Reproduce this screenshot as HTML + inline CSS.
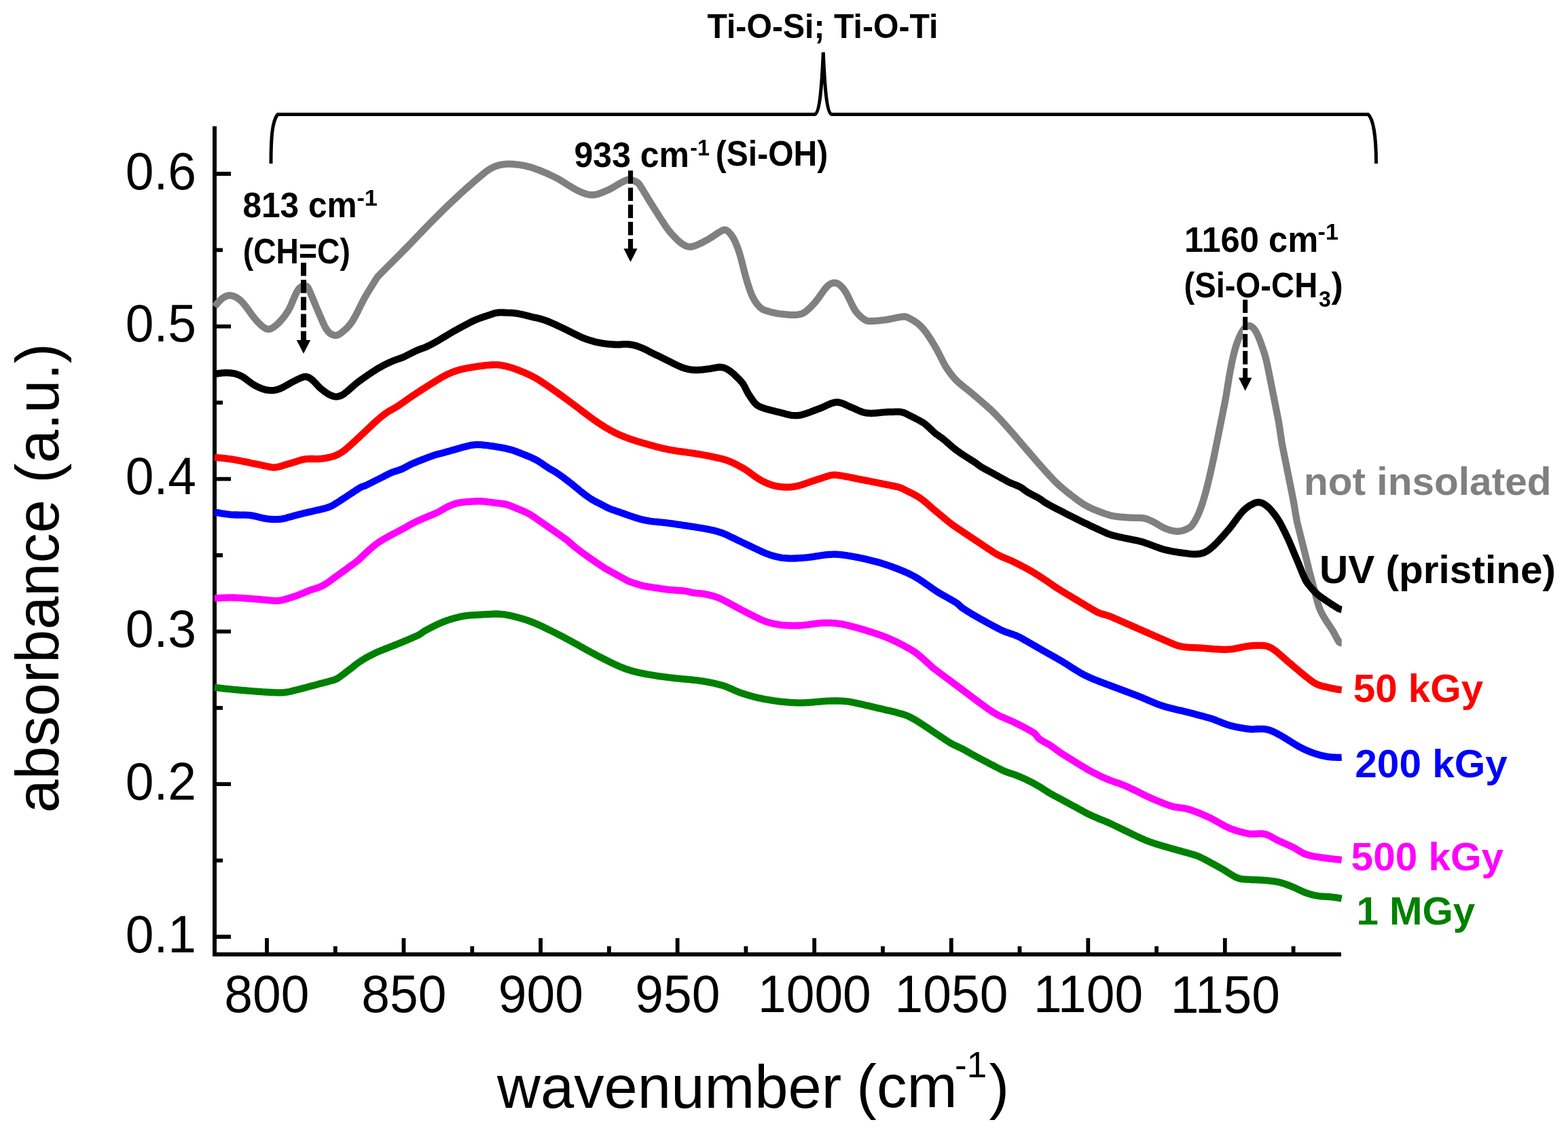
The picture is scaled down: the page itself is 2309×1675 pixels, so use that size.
<!DOCTYPE html>
<html><head><meta charset="utf-8"><title>absorbance vs wavenumber</title>
<style>
html,body{margin:0;padding:0;background:#fff;}
body{width:2309px;height:1675px;overflow:hidden;}
svg{display:block;}
text{font-family:"Liberation Sans", sans-serif;}
.b{font-weight:bold;}
</style></head><body>
<svg width="2309" height="1675" viewBox="0 0 2309 1675">
<rect width="2309" height="1675" fill="#fff"/>

<g stroke="#000" stroke-width="6" fill="none" stroke-linecap="butt">
<path d="M316,186V1406H1975"/>
</g>
<path d="M319,1380.0H340 M319,1155.2H340 M319,930.4H340 M319,705.6H340 M319,480.8H340 M319,256.0H340 M319,1267.6H328 M319,1042.8H328 M319,818.0H328 M319,593.2H328 M319,368.4H328 M393.0,1403V1382 M594.5,1403V1382 M796.1,1403V1382 M997.6,1403V1382 M1199.2,1403V1382 M1400.8,1403V1382 M1602.3,1403V1382 M1803.8,1403V1382 M493.8,1403V1394 M695.3,1403V1394 M896.9,1403V1394 M1098.4,1403V1394 M1300.0,1403V1394 M1501.5,1403V1394 M1703.1,1403V1394 M1904.6,1403V1394" stroke="#000" stroke-width="5.8" fill="none"/>
<text x="0" y="0" transform="translate(392.90 1490.90) scale(1 1.040)" font-size="75.00" text-anchor="middle" fill="#000">800</text>
<text x="0" y="0" transform="translate(594.80 1491.25) scale(1 1.040)" font-size="75.00" text-anchor="middle" fill="#000">850</text>
<text x="0" y="0" transform="translate(796.30 1491.25) scale(1 1.040)" font-size="75.00" text-anchor="middle" fill="#000">900</text>
<text x="0" y="0" transform="translate(997.90 1491.25) scale(1 1.040)" font-size="75.00" text-anchor="middle" fill="#000">950</text>
<text x="0" y="0" transform="translate(1199.40 1491.25) scale(1 1.040)" font-size="75.00" text-anchor="middle" fill="#000">1000</text>
<text x="0" y="0" transform="translate(1401.00 1491.25) scale(1 1.040)" font-size="75.00" text-anchor="middle" fill="#000">1050</text>
<text x="0" y="0" transform="translate(1602.50 1491.25) scale(1 1.040)" font-size="75.00" text-anchor="middle" fill="#000">1100</text>
<text x="0" y="0" transform="translate(1804.40 1491.60) scale(1 1.040)" font-size="75.00" text-anchor="middle" fill="#000">1150</text>
<text x="732.10" y="1631.50" font-size="89.00" textLength="507.12" lengthAdjust="spacingAndGlyphs" fill="#000">wavenumber</text>
<text x="1261.30" y="1630.55" font-size="89.00" fill="#000">(cm</text>
<text x="1406.10" y="1587.05" font-size="53.00" fill="#000">-1</text>
<text x="1456.60" y="1630.55" font-size="89.00" fill="#000">)</text>
<text x="1920.00" y="728.55" font-size="58.00" font-weight="bold" textLength="364.56" lengthAdjust="spacingAndGlyphs" fill="#808080">not insolated</text>
<text x="1943.00" y="859.40" font-size="58.00" font-weight="bold" textLength="347.96" lengthAdjust="spacingAndGlyphs" fill="#000">UV (pristine)</text>
<text x="1992.70" y="1034.25" font-size="58.00" font-weight="bold" textLength="191.57" lengthAdjust="spacingAndGlyphs" fill="#ff0000">50 kGy</text>
<text x="1995.30" y="1144.90" font-size="58.00" font-weight="bold" textLength="224.53" lengthAdjust="spacingAndGlyphs" fill="#0000ff">200 kGy</text>
<text x="1989.60" y="1281.50" font-size="58.00" font-weight="bold" textLength="224.42" lengthAdjust="spacingAndGlyphs" fill="#ff00ff">500 kGy</text>
<text x="1997.40" y="1362.35" font-size="58.00" font-weight="bold" textLength="174.78" lengthAdjust="spacingAndGlyphs" fill="#008000">1 MGy</text>
<text x="1041.40" y="56.00" font-size="50.00" font-weight="bold" textLength="340.11" lengthAdjust="spacingAndGlyphs" fill="#000">Ti-O-Si; Ti-O-Ti</text>
<text x="357.40" y="320.25" font-size="51.00" font-weight="bold" textLength="168.33" lengthAdjust="spacingAndGlyphs" fill="#000">813 cm</text>
<text x="525.40" y="303.25" font-size="33.00" font-weight="bold" textLength="30.48" lengthAdjust="spacingAndGlyphs" fill="#000">-1</text>
<text x="357.80" y="387.60" font-size="51.00" font-weight="bold" textLength="158.00" lengthAdjust="spacingAndGlyphs" fill="#000">(CH=C)</text>
<text x="845.60" y="245.95" font-size="51.00" font-weight="bold" textLength="169.37" lengthAdjust="spacingAndGlyphs" fill="#000">933 cm</text>
<text x="1016.20" y="228.75" font-size="33.00" font-weight="bold" textLength="28.77" lengthAdjust="spacingAndGlyphs" fill="#000">-1</text>
<text x="1053.80" y="244.20" font-size="51.00" font-weight="bold" textLength="165.52" lengthAdjust="spacingAndGlyphs" fill="#000">(Si-OH)</text>
<text x="1744.00" y="371.05" font-size="51.00" font-weight="bold" textLength="197.20" lengthAdjust="spacingAndGlyphs" fill="#000">1160 cm</text>
<text x="1940.60" y="353.15" font-size="33.00" font-weight="bold" textLength="30.26" lengthAdjust="spacingAndGlyphs" fill="#000">-1</text>
<text x="1743.50" y="437.75" font-size="51.00" font-weight="bold" textLength="196.75" lengthAdjust="spacingAndGlyphs" fill="#000">(Si-O-CH</text>
<text x="1942.10" y="452.35" font-size="33.00" font-weight="bold" textLength="17.88" lengthAdjust="spacingAndGlyphs" fill="#000">3</text>
<text x="1960.50" y="437.75" font-size="51.00" font-weight="bold" textLength="17.32" lengthAdjust="spacingAndGlyphs" fill="#000">)</text>
<text x="0" y="0" transform="translate(289.00 1402.55) scale(1 1.040)" font-size="75.00" text-anchor="end" fill="#000">0.1</text>
<text x="0" y="0" transform="translate(289.00 1177.75) scale(1 1.040)" font-size="75.00" text-anchor="end" fill="#000">0.2</text>
<text x="0" y="0" transform="translate(289.00 952.95) scale(1 1.040)" font-size="75.00" text-anchor="end" fill="#000">0.3</text>
<text x="0" y="0" transform="translate(289.00 728.15) scale(1 1.040)" font-size="75.00" text-anchor="end" fill="#000">0.4</text>
<text x="0" y="0" transform="translate(289.00 503.35) scale(1 1.040)" font-size="75.00" text-anchor="end" fill="#000">0.5</text>
<text x="0" y="0" transform="translate(289.00 278.55) scale(1 1.040)" font-size="75.00" text-anchor="end" fill="#000">0.6</text>
<text font-size="89" textLength="691.6" lengthAdjust="spacingAndGlyphs" transform="translate(85.8,1197.4) rotate(-90)">absorbance (a.u.)</text>
<path d="M316.0,451.7L318.0,449.1 320.0,446.8 322.0,444.5 324.0,442.5 326.0,440.7 328.0,439.1 330.0,437.8 332.0,436.7 334.0,435.9 336.0,435.4 338.0,435.2 340.0,435.4 342.0,435.8 344.0,436.4 346.0,437.1 348.0,438.1 350.0,439.3 352.0,440.8 354.0,442.4 356.0,444.4 358.0,446.6 360.0,449.0 362.0,451.5 364.0,454.2 366.0,456.9 368.0,459.7 370.0,462.5 372.0,465.2 374.0,467.8 376.0,470.2 378.0,472.5 380.0,474.7 382.0,476.8 384.0,478.7 386.0,480.5 388.0,482.0 390.0,483.3 392.0,484.3 394.0,484.9 396.0,485.0 398.0,484.6 400.0,483.7 402.0,482.6 404.0,481.2 406.0,479.6 408.0,477.9 410.0,476.0 412.0,474.0 414.0,471.8 416.0,469.4 418.0,466.9 420.0,464.2 422.0,461.3 424.0,458.3 426.0,454.9 428.0,450.7 430.0,446.1 432.0,441.3 434.0,436.6 436.0,432.2 438.0,428.5 440.0,425.6 442.0,423.5 444.0,422.1 446.0,421.2 448.0,420.8 450.0,420.9 452.0,422.0 454.0,424.6 456.0,428.9 458.0,433.7 460.0,438.5 462.0,443.3 464.0,448.1 466.0,452.9 468.0,457.6 470.0,462.3 472.0,466.9 474.0,471.6 476.0,476.1 478.0,480.4 480.0,484.0 482.0,486.9 484.0,489.3 486.0,491.1 488.0,492.4 490.0,493.3 492.0,493.9 494.0,494.1 496.0,493.8 498.0,493.1 500.0,492.1 502.0,490.8 504.0,489.2 506.0,487.5 508.0,485.8 510.0,483.9 512.0,482.0 514.0,479.8 516.0,477.3 518.0,474.5 520.0,471.4 522.0,467.9 524.0,464.2 526.0,460.3 528.0,456.4 530.0,452.3 532.0,448.3 534.0,444.4 536.0,440.5 538.0,436.9 540.0,433.5 542.0,430.2 544.0,426.9 546.0,423.6 548.0,420.4 550.0,417.2 552.0,414.0 554.0,410.7 556.0,407.9 558.0,405.8 560.0,403.7 562.0,401.7 564.0,399.7 566.0,397.7 568.0,395.6 570.0,393.6 572.0,391.6 574.0,389.6 576.0,387.6 578.0,385.6 580.0,383.6 582.0,381.6 584.0,379.6 586.0,377.6 588.0,375.6 590.0,373.6 592.0,371.6 594.0,369.5 596.0,367.5 598.0,365.5 600.0,363.5 602.0,361.5 604.0,359.4 606.0,357.3 608.0,355.2 610.0,353.1 612.0,351.0 614.0,348.9 616.0,346.8 618.0,344.7 620.0,342.6 622.0,340.5 624.0,338.4 626.0,336.4 628.0,334.3 630.0,332.3 632.0,330.2 634.0,328.2 636.0,326.2 638.0,324.2 640.0,322.1 642.0,320.1 644.0,318.1 646.0,316.1 648.0,314.1 650.0,312.1 652.0,310.2 654.0,308.2 656.0,306.2 658.0,304.3 660.0,302.3 662.0,300.4 664.0,298.5 666.0,296.7 668.0,294.8 670.0,292.9 672.0,291.1 674.0,289.2 676.0,287.4 678.0,285.5 680.0,283.7 682.0,281.9 684.0,280.0 686.0,278.2 688.0,276.4 690.0,274.6 692.0,272.8 694.0,271.1 696.0,269.4 698.0,267.6 700.0,265.9 702.0,264.2 704.0,262.5 706.0,260.8 708.0,259.2 710.0,257.5 712.0,255.8 714.0,254.2 716.0,252.7 718.0,251.2 720.0,249.9 722.0,248.7 724.0,247.5 726.0,246.5 728.0,245.6 730.0,244.9 732.0,244.2 734.0,243.6 736.0,243.1 738.0,242.6 740.0,242.3 742.0,242.0 744.0,241.8 746.0,241.7 748.0,241.6 750.0,241.6 752.0,241.7 754.0,241.7 756.0,241.9 758.0,242.1 760.0,242.3 762.0,242.5 764.0,242.7 766.0,243.0 768.0,243.3 770.0,243.6 772.0,244.0 774.0,244.4 776.0,244.9 778.0,245.4 780.0,245.9 782.0,246.5 784.0,247.2 786.0,247.9 788.0,248.6 790.0,249.3 792.0,250.0 794.0,250.8 796.0,251.6 798.0,252.4 800.0,253.2 802.0,254.0 804.0,254.9 806.0,255.8 808.0,256.7 810.0,257.6 812.0,258.5 814.0,259.5 816.0,260.5 818.0,261.5 820.0,262.5 822.0,263.6 824.0,264.7 826.0,265.9 828.0,267.2 830.0,268.4 832.0,269.7 834.0,271.0 836.0,272.2 838.0,273.5 840.0,274.7 842.0,275.9 844.0,277.1 846.0,278.2 848.0,279.3 850.0,280.3 852.0,281.3 854.0,282.3 856.0,283.2 858.0,284.0 860.0,284.8 862.0,285.4 864.0,286.0 866.0,286.5 868.0,286.8 870.0,287.0 872.0,287.1 874.0,287.1 876.0,286.8 878.0,286.5 880.0,286.0 882.0,285.4 884.0,284.7 886.0,283.9 888.0,283.1 890.0,282.3 892.0,281.4 894.0,280.5 896.0,279.6 898.0,278.7 900.0,277.6 902.0,276.5 904.0,275.3 906.0,274.1 908.0,272.9 910.0,271.7 912.0,270.6 914.0,269.4 916.0,268.3 918.0,267.3 920.0,266.4 922.0,265.5 924.0,264.8 926.0,264.6 928.0,264.8 930.0,265.3 932.0,265.9 934.0,266.6 936.0,267.3 938.0,268.3 940.0,270.0 942.0,272.5 944.0,275.6 946.0,278.8 948.0,282.1 950.0,285.4 952.0,288.7 954.0,292.1 956.0,295.4 958.0,298.6 960.0,301.8 962.0,305.0 964.0,308.1 966.0,311.3 968.0,314.4 970.0,317.5 972.0,320.7 974.0,323.8 976.0,326.9 978.0,329.9 980.0,332.9 982.0,335.8 984.0,338.5 986.0,341.0 988.0,343.4 990.0,345.7 992.0,347.8 994.0,349.9 996.0,351.9 998.0,353.9 1000.0,355.7 1002.0,357.4 1004.0,358.9 1006.0,360.2 1008.0,361.3 1010.0,362.3 1012.0,363.0 1014.0,363.4 1016.0,363.6 1018.0,363.5 1020.0,363.1 1022.0,362.5 1024.0,361.8 1026.0,361.0 1028.0,360.1 1030.0,359.2 1032.0,358.3 1034.0,357.3 1036.0,356.3 1038.0,355.2 1040.0,354.2 1042.0,353.1 1044.0,351.9 1046.0,350.7 1048.0,349.4 1050.0,348.1 1052.0,346.7 1054.0,345.4 1056.0,344.1 1058.0,342.8 1060.0,341.6 1062.0,340.4 1064.0,339.4 1066.0,338.6 1068.0,338.6 1070.0,339.4 1072.0,340.8 1074.0,342.7 1076.0,345.1 1078.0,347.8 1080.0,351.0 1082.0,354.8 1084.0,359.3 1086.0,364.4 1088.0,370.1 1090.0,376.5 1092.0,383.9 1094.0,391.8 1096.0,399.8 1098.0,407.4 1100.0,414.2 1102.0,420.7 1104.0,426.7 1106.0,432.1 1108.0,436.7 1110.0,440.5 1112.0,443.8 1114.0,446.8 1116.0,449.4 1118.0,451.6 1120.0,453.5 1122.0,455.0 1124.0,456.2 1126.0,457.0 1128.0,457.6 1130.0,458.2 1132.0,458.8 1134.0,459.4 1136.0,459.9 1138.0,460.4 1140.0,460.8 1142.0,461.3 1144.0,461.6 1146.0,462.0 1148.0,462.3 1150.0,462.5 1152.0,462.7 1154.0,463.0 1156.0,463.2 1158.0,463.4 1160.0,463.6 1162.0,463.7 1164.0,463.8 1166.0,463.9 1168.0,463.9 1170.0,463.9 1172.0,463.8 1174.0,463.6 1176.0,463.3 1178.0,462.9 1180.0,462.4 1182.0,461.7 1184.0,460.6 1186.0,459.3 1188.0,457.7 1190.0,456.0 1192.0,454.1 1194.0,452.1 1196.0,450.0 1198.0,447.9 1200.0,445.8 1202.0,443.3 1204.0,440.7 1206.0,437.9 1208.0,435.1 1210.0,432.3 1212.0,429.5 1214.0,426.8 1216.0,424.3 1218.0,422.1 1220.0,420.2 1222.0,418.8 1224.0,417.7 1226.0,417.0 1228.0,416.6 1230.0,416.7 1232.0,417.1 1234.0,418.0 1236.0,419.4 1238.0,421.1 1240.0,423.1 1242.0,425.4 1244.0,428.2 1246.0,431.4 1248.0,435.2 1250.0,439.2 1252.0,443.4 1254.0,447.6 1256.0,451.6 1258.0,455.2 1260.0,458.4 1262.0,460.9 1264.0,463.1 1266.0,465.1 1268.0,467.0 1270.0,468.6 1272.0,470.1 1274.0,471.3 1276.0,472.2 1278.0,472.8 1280.0,473.1 1282.0,473.1 1284.0,473.0 1286.0,472.9 1288.0,472.8 1290.0,472.7 1292.0,472.5 1294.0,472.3 1296.0,472.1 1298.0,471.9 1300.0,471.7 1302.0,471.5 1304.0,471.2 1306.0,470.9 1308.0,470.5 1310.0,470.1 1312.0,469.7 1314.0,469.3 1316.0,468.9 1318.0,468.5 1320.0,468.0 1322.0,467.6 1324.0,467.3 1326.0,467.0 1328.0,466.7 1330.0,466.5 1332.0,466.4 1334.0,466.7 1336.0,467.4 1338.0,468.3 1340.0,469.4 1342.0,470.5 1344.0,471.6 1346.0,472.8 1348.0,474.1 1350.0,475.5 1352.0,477.1 1354.0,478.8 1356.0,480.6 1358.0,482.7 1360.0,485.1 1362.0,487.6 1364.0,490.2 1366.0,493.1 1368.0,496.1 1370.0,499.1 1372.0,502.3 1374.0,505.6 1376.0,508.9 1378.0,512.3 1380.0,515.8 1382.0,519.6 1384.0,523.5 1386.0,527.5 1388.0,531.5 1390.0,535.3 1392.0,538.9 1394.0,542.1 1396.0,545.1 1398.0,547.9 1400.0,550.6 1402.0,553.2 1404.0,555.6 1406.0,557.9 1408.0,560.0 1410.0,562.0 1412.0,563.8 1414.0,565.5 1416.0,567.2 1418.0,568.8 1420.0,570.4 1422.0,572.0 1424.0,573.6 1426.0,575.2 1428.0,576.8 1430.0,578.4 1432.0,580.1 1434.0,581.8 1436.0,583.5 1438.0,585.2 1440.0,586.9 1442.0,588.6 1444.0,590.3 1446.0,592.1 1448.0,593.8 1450.0,595.5 1452.0,597.3 1454.0,599.1 1456.0,600.9 1458.0,602.7 1460.0,604.6 1462.0,606.5 1464.0,608.5 1466.0,610.5 1468.0,612.6 1470.0,614.7 1472.0,616.8 1474.0,618.9 1476.0,621.1 1478.0,623.3 1480.0,625.5 1482.0,627.8 1484.0,630.0 1486.0,632.3 1488.0,634.6 1490.0,636.9 1492.0,639.2 1494.0,641.5 1496.0,643.8 1498.0,646.1 1500.0,648.5 1502.0,650.8 1504.0,653.2 1506.0,655.5 1508.0,657.8 1510.0,660.2 1512.0,662.5 1514.0,664.9 1516.0,667.2 1518.0,669.5 1520.0,671.9 1522.0,674.2 1524.0,676.5 1526.0,678.8 1528.0,681.1 1530.0,683.4 1532.0,685.6 1534.0,687.9 1536.0,690.1 1538.0,692.4 1540.0,694.6 1542.0,696.8 1544.0,699.0 1546.0,701.2 1548.0,703.3 1550.0,705.5 1552.0,707.6 1554.0,709.6 1556.0,711.5 1558.0,713.4 1560.0,715.3 1562.0,717.0 1564.0,718.8 1566.0,720.4 1568.0,722.1 1570.0,723.7 1572.0,725.3 1574.0,726.9 1576.0,728.4 1578.0,730.0 1580.0,731.5 1582.0,733.1 1584.0,734.6 1586.0,736.1 1588.0,737.6 1590.0,739.0 1592.0,740.4 1594.0,741.7 1596.0,743.0 1598.0,744.2 1600.0,745.3 1602.0,746.4 1604.0,747.4 1606.0,748.4 1608.0,749.3 1610.0,750.2 1612.0,751.0 1614.0,751.8 1616.0,752.6 1618.0,753.4 1620.0,754.1 1622.0,754.9 1624.0,755.6 1626.0,756.3 1628.0,757.0 1630.0,757.7 1632.0,758.3 1634.0,758.9 1636.0,759.4 1638.0,759.9 1640.0,760.3 1642.0,760.6 1644.0,760.9 1646.0,761.1 1648.0,761.4 1650.0,761.6 1652.0,761.7 1654.0,761.9 1656.0,762.1 1658.0,762.2 1660.0,762.4 1662.0,762.5 1664.0,762.6 1666.0,762.7 1668.0,762.7 1670.0,762.8 1672.0,762.8 1674.0,762.8 1676.0,762.8 1678.0,762.8 1680.0,762.9 1682.0,763.1 1684.0,763.3 1686.0,763.7 1688.0,764.3 1690.0,765.0 1692.0,765.9 1694.0,766.8 1696.0,767.7 1698.0,768.7 1700.0,769.7 1702.0,770.8 1704.0,772.0 1706.0,773.2 1708.0,774.4 1710.0,775.5 1712.0,776.6 1714.0,777.6 1716.0,778.5 1718.0,779.3 1720.0,780.0 1722.0,780.7 1724.0,781.2 1726.0,781.7 1728.0,782.1 1730.0,782.4 1732.0,782.7 1734.0,782.8 1736.0,782.6 1738.0,782.4 1740.0,782.0 1742.0,781.6 1744.0,780.9 1746.0,780.2 1748.0,779.2 1750.0,778.2 1752.0,777.0 1754.0,775.4 1756.0,773.1 1758.0,770.2 1760.0,766.8 1762.0,763.1 1764.0,759.0 1766.0,754.3 1768.0,749.2 1770.0,743.4 1772.0,737.1 1774.0,730.3 1776.0,723.1 1778.0,715.4 1780.0,707.1 1782.0,698.5 1784.0,689.7 1786.0,680.6 1788.0,671.1 1790.0,661.2 1792.0,651.3 1794.0,641.4 1796.0,631.5 1798.0,621.5 1800.0,611.6 1802.0,601.5 1804.0,591.4 1806.0,580.3 1808.0,567.7 1810.0,555.4 1812.0,544.4 1814.0,534.3 1816.0,525.1 1818.0,517.0 1820.0,510.0 1822.0,504.0 1824.0,498.8 1826.0,494.3 1828.0,490.4 1830.0,487.0 1832.0,484.3 1834.0,482.3 1836.0,480.8 1838.0,480.0 1840.0,479.9 1842.0,480.6 1844.0,481.8 1846.0,483.7 1848.0,486.3 1850.0,489.5 1852.0,493.5 1854.0,498.1 1856.0,503.3 1858.0,508.9 1860.0,514.8 1862.0,520.8 1864.0,527.7 1866.0,536.2 1868.0,546.2 1870.0,556.2 1872.0,566.3 1874.0,576.3 1876.0,586.3 1878.0,596.3 1880.0,606.4 1882.0,616.4 1884.0,627.8 1886.0,641.7 1888.0,654.5 1890.0,664.6 1892.0,674.5 1894.0,684.3 1896.0,694.2 1898.0,704.2 1900.0,714.2 1902.0,724.2 1904.0,734.3 1906.0,745.2 1908.0,757.7 1910.0,768.7 1912.0,776.9 1914.0,784.8 1916.0,792.7 1918.0,800.7 1920.0,808.6 1922.0,816.6 1924.0,824.6 1926.0,832.9 1928.0,841.1 1930.0,848.9 1932.0,856.4 1934.0,863.8 1936.0,871.2 1938.0,878.9 1940.0,886.4 1942.0,893.1 1944.0,898.4 1946.0,902.7 1948.0,906.4 1950.0,909.7 1952.0,913.0 1954.0,916.1 1956.0,919.1 1958.0,922.1 1960.0,925.2 1962.0,928.3 1964.0,931.6 1966.0,935.4 1968.0,939.2 1970.0,942.9 1972.0,945.9 1974.0,947.0 1975.7,947.0" fill="none" stroke="#808080" stroke-width="10.3" stroke-linejoin="round" stroke-linecap="butt"/>
<path d="M316.0,551.3L318.0,550.8 320.0,550.4 322.0,550.1 324.0,549.8 326.0,549.6 328.0,549.4 330.0,549.3 332.0,549.2 334.0,549.2 336.0,549.3 338.0,549.4 340.0,549.5 342.0,549.8 344.0,550.1 346.0,550.6 348.0,551.1 350.0,551.8 352.0,552.5 354.0,553.4 356.0,554.4 358.0,555.6 360.0,556.9 362.0,558.4 364.0,559.9 366.0,561.4 368.0,562.9 370.0,564.4 372.0,565.8 374.0,567.0 376.0,568.2 378.0,569.2 380.0,570.1 382.0,571.0 384.0,571.9 386.0,572.6 388.0,573.3 390.0,573.9 392.0,574.4 394.0,574.7 396.0,575.0 398.0,575.2 400.0,575.2 402.0,575.1 404.0,574.9 406.0,574.5 408.0,574.0 410.0,573.4 412.0,572.7 414.0,571.8 416.0,570.8 418.0,569.8 420.0,568.7 422.0,567.6 424.0,566.5 426.0,565.3 428.0,564.2 430.0,563.1 432.0,562.0 434.0,561.0 436.0,559.9 438.0,559.0 440.0,558.0 442.0,557.2 444.0,556.3 446.0,555.6 448.0,555.0 450.0,554.8 452.0,555.1 454.0,555.8 456.0,556.9 458.0,558.2 460.0,559.8 462.0,561.7 464.0,563.8 466.0,565.9 468.0,568.1 470.0,570.2 472.0,572.1 474.0,573.7 476.0,575.3 478.0,576.8 480.0,578.2 482.0,579.6 484.0,580.8 486.0,581.8 488.0,582.7 490.0,583.5 492.0,584.0 494.0,584.3 496.0,584.3 498.0,584.1 500.0,583.6 502.0,582.8 504.0,581.8 506.0,580.6 508.0,579.1 510.0,577.5 512.0,575.9 514.0,574.1 516.0,572.4 518.0,570.6 520.0,568.8 522.0,567.1 524.0,565.4 526.0,563.8 528.0,562.2 530.0,560.8 532.0,559.3 534.0,557.9 536.0,556.5 538.0,555.1 540.0,553.7 542.0,552.3 544.0,551.0 546.0,549.6 548.0,548.3 550.0,547.0 552.0,545.7 554.0,544.4 556.0,543.2 558.0,542.0 560.0,540.9 562.0,539.8 564.0,538.7 566.0,537.7 568.0,536.7 570.0,535.7 572.0,534.7 574.0,533.8 576.0,532.9 578.0,532.0 580.0,531.2 582.0,530.5 584.0,529.7 586.0,529.0 588.0,528.3 590.0,527.6 592.0,526.9 594.0,526.1 596.0,525.2 598.0,524.2 600.0,523.2 602.0,522.2 604.0,521.2 606.0,520.1 608.0,519.1 610.0,518.1 612.0,517.1 614.0,516.2 616.0,515.4 618.0,514.6 620.0,513.9 622.0,513.2 624.0,512.5 626.0,511.7 628.0,510.9 630.0,509.9 632.0,508.9 634.0,507.9 636.0,506.9 638.0,505.8 640.0,504.7 642.0,503.6 644.0,502.4 646.0,501.3 648.0,500.1 650.0,498.9 652.0,497.7 654.0,496.5 656.0,495.3 658.0,494.1 660.0,492.8 662.0,491.6 664.0,490.4 666.0,489.3 668.0,488.1 670.0,487.0 672.0,485.9 674.0,484.8 676.0,483.7 678.0,482.7 680.0,481.6 682.0,480.5 684.0,479.4 686.0,478.4 688.0,477.3 690.0,476.3 692.0,475.2 694.0,474.2 696.0,473.2 698.0,472.3 700.0,471.4 702.0,470.5 704.0,469.7 706.0,469.0 708.0,468.2 710.0,467.6 712.0,466.9 714.0,466.2 716.0,465.6 718.0,464.9 720.0,464.3 722.0,463.6 724.0,462.9 726.0,462.2 728.0,461.6 730.0,461.1 732.0,460.7 734.0,460.5 736.0,460.4 738.0,460.4 740.0,460.4 742.0,460.5 744.0,460.6 746.0,460.7 748.0,460.8 750.0,460.8 752.0,460.9 754.0,461.0 756.0,461.1 758.0,461.3 760.0,461.6 762.0,461.9 764.0,462.3 766.0,462.7 768.0,463.1 770.0,463.5 772.0,464.0 774.0,464.4 776.0,464.9 778.0,465.4 780.0,465.9 782.0,466.4 784.0,466.9 786.0,467.4 788.0,467.9 790.0,468.3 792.0,468.8 794.0,469.3 796.0,469.8 798.0,470.4 800.0,471.0 802.0,471.7 804.0,472.4 806.0,473.1 808.0,473.9 810.0,474.7 812.0,475.6 814.0,476.5 816.0,477.4 818.0,478.3 820.0,479.2 822.0,480.2 824.0,481.1 826.0,482.0 828.0,483.0 830.0,483.9 832.0,484.9 834.0,485.9 836.0,486.8 838.0,487.8 840.0,488.8 842.0,489.8 844.0,490.9 846.0,491.9 848.0,492.9 850.0,493.9 852.0,494.9 854.0,495.8 856.0,496.7 858.0,497.6 860.0,498.4 862.0,499.1 864.0,499.8 866.0,500.5 868.0,501.1 870.0,501.7 872.0,502.3 874.0,502.9 876.0,503.4 878.0,503.9 880.0,504.4 882.0,504.8 884.0,505.2 886.0,505.5 888.0,505.9 890.0,506.2 892.0,506.4 894.0,506.7 896.0,506.9 898.0,507.1 900.0,507.2 902.0,507.4 904.0,507.5 906.0,507.6 908.0,507.7 910.0,507.6 912.0,507.6 914.0,507.5 916.0,507.3 918.0,507.2 920.0,507.2 922.0,507.2 924.0,507.2 926.0,507.4 928.0,507.5 930.0,507.8 932.0,508.2 934.0,508.6 936.0,509.2 938.0,509.8 940.0,510.5 942.0,511.3 944.0,512.0 946.0,512.9 948.0,513.8 950.0,514.7 952.0,515.7 954.0,516.7 956.0,517.8 958.0,518.8 960.0,519.8 962.0,520.8 964.0,521.8 966.0,522.8 968.0,523.7 970.0,524.7 972.0,525.7 974.0,526.7 976.0,527.7 978.0,528.7 980.0,529.7 982.0,530.7 984.0,531.7 986.0,532.7 988.0,533.7 990.0,534.7 992.0,535.6 994.0,536.6 996.0,537.5 998.0,538.5 1000.0,539.4 1002.0,540.3 1004.0,541.1 1006.0,541.8 1008.0,542.5 1010.0,543.1 1012.0,543.6 1014.0,544.0 1016.0,544.4 1018.0,544.7 1020.0,544.9 1022.0,545.0 1024.0,545.1 1026.0,545.1 1028.0,545.1 1030.0,544.9 1032.0,544.8 1034.0,544.6 1036.0,544.4 1038.0,544.1 1040.0,543.9 1042.0,543.6 1044.0,543.4 1046.0,543.1 1048.0,542.7 1050.0,542.4 1052.0,542.0 1054.0,541.6 1056.0,541.3 1058.0,541.0 1060.0,540.9 1062.0,541.0 1064.0,541.3 1066.0,541.8 1068.0,542.5 1070.0,543.5 1072.0,544.6 1074.0,545.8 1076.0,547.3 1078.0,548.9 1080.0,550.6 1082.0,552.5 1084.0,554.5 1086.0,556.4 1088.0,558.4 1090.0,560.5 1092.0,562.7 1094.0,565.1 1096.0,568.5 1098.0,572.5 1100.0,576.5 1102.0,580.1 1104.0,583.2 1106.0,586.2 1108.0,589.2 1110.0,591.9 1112.0,594.3 1114.0,596.2 1116.0,597.7 1118.0,598.7 1120.0,599.6 1122.0,600.4 1124.0,601.1 1126.0,601.8 1128.0,602.4 1130.0,602.9 1132.0,603.5 1134.0,604.0 1136.0,604.5 1138.0,605.1 1140.0,605.6 1142.0,606.1 1144.0,606.5 1146.0,607.0 1148.0,607.5 1150.0,608.0 1152.0,608.6 1154.0,609.1 1156.0,609.6 1158.0,610.2 1160.0,610.6 1162.0,611.1 1164.0,611.5 1166.0,611.8 1168.0,612.0 1170.0,612.2 1172.0,612.2 1174.0,612.1 1176.0,611.9 1178.0,611.6 1180.0,611.2 1182.0,610.7 1184.0,610.1 1186.0,609.5 1188.0,608.9 1190.0,608.2 1192.0,607.5 1194.0,606.7 1196.0,605.9 1198.0,605.2 1200.0,604.4 1202.0,603.6 1204.0,602.9 1206.0,602.2 1208.0,601.4 1210.0,600.6 1212.0,599.7 1214.0,598.8 1216.0,597.8 1218.0,596.9 1220.0,596.0 1222.0,595.1 1224.0,594.3 1226.0,593.7 1228.0,593.1 1230.0,592.7 1232.0,592.5 1234.0,592.6 1236.0,592.9 1238.0,593.4 1240.0,594.0 1242.0,594.8 1244.0,595.6 1246.0,596.6 1248.0,597.5 1250.0,598.5 1252.0,599.4 1254.0,600.2 1256.0,601.0 1258.0,601.8 1260.0,602.8 1262.0,603.7 1264.0,604.6 1266.0,605.5 1268.0,606.3 1270.0,607.1 1272.0,607.6 1274.0,608.0 1276.0,608.4 1278.0,608.6 1280.0,608.7 1282.0,608.8 1284.0,608.8 1286.0,608.7 1288.0,608.6 1290.0,608.5 1292.0,608.3 1294.0,608.1 1296.0,607.9 1298.0,607.7 1300.0,607.5 1302.0,607.3 1304.0,607.2 1306.0,607.0 1308.0,606.9 1310.0,606.9 1312.0,606.9 1314.0,606.9 1316.0,606.8 1318.0,606.7 1320.0,606.7 1322.0,606.6 1324.0,606.7 1326.0,606.9 1328.0,607.2 1330.0,607.7 1332.0,608.4 1334.0,609.3 1336.0,610.3 1338.0,611.3 1340.0,612.4 1342.0,613.4 1344.0,614.4 1346.0,615.4 1348.0,616.4 1350.0,617.5 1352.0,618.5 1354.0,619.6 1356.0,620.7 1358.0,621.8 1360.0,623.0 1362.0,624.5 1364.0,626.1 1366.0,627.9 1368.0,629.8 1370.0,631.7 1372.0,633.6 1374.0,635.5 1376.0,637.3 1378.0,639.0 1380.0,640.4 1382.0,641.8 1384.0,643.2 1386.0,644.6 1388.0,646.1 1390.0,647.7 1392.0,649.4 1394.0,651.1 1396.0,652.9 1398.0,654.7 1400.0,656.4 1402.0,658.2 1404.0,659.8 1406.0,661.4 1408.0,662.9 1410.0,664.4 1412.0,665.8 1414.0,667.2 1416.0,668.6 1418.0,669.9 1420.0,671.2 1422.0,672.5 1424.0,673.8 1426.0,675.0 1428.0,676.3 1430.0,677.6 1432.0,678.8 1434.0,680.1 1436.0,681.4 1438.0,682.9 1440.0,684.4 1442.0,685.9 1444.0,687.3 1446.0,688.5 1448.0,689.6 1450.0,690.8 1452.0,691.8 1454.0,692.9 1456.0,694.0 1458.0,695.1 1460.0,696.1 1462.0,697.2 1464.0,698.3 1466.0,699.4 1468.0,700.5 1470.0,701.7 1472.0,702.8 1474.0,703.9 1476.0,705.0 1478.0,706.1 1480.0,707.2 1482.0,708.3 1484.0,709.5 1486.0,710.5 1488.0,711.4 1490.0,712.2 1492.0,713.0 1494.0,713.8 1496.0,714.6 1498.0,715.4 1500.0,716.3 1502.0,717.3 1504.0,718.4 1506.0,719.8 1508.0,721.4 1510.0,722.9 1512.0,724.3 1514.0,725.5 1516.0,726.7 1518.0,727.7 1520.0,728.8 1522.0,729.8 1524.0,730.8 1526.0,731.9 1528.0,732.9 1530.0,734.1 1532.0,735.3 1534.0,736.7 1536.0,738.3 1538.0,739.7 1540.0,741.0 1542.0,742.1 1544.0,743.2 1546.0,744.3 1548.0,745.4 1550.0,746.5 1552.0,747.6 1554.0,748.6 1556.0,749.7 1558.0,750.7 1560.0,751.7 1562.0,752.7 1564.0,753.7 1566.0,754.7 1568.0,755.8 1570.0,756.8 1572.0,757.8 1574.0,758.8 1576.0,759.8 1578.0,760.8 1580.0,761.8 1582.0,762.8 1584.0,763.8 1586.0,764.8 1588.0,765.8 1590.0,766.8 1592.0,767.8 1594.0,768.8 1596.0,769.8 1598.0,770.8 1600.0,771.7 1602.0,772.7 1604.0,773.7 1606.0,774.6 1608.0,775.6 1610.0,776.5 1612.0,777.4 1614.0,778.4 1616.0,779.3 1618.0,780.2 1620.0,781.1 1622.0,782.0 1624.0,783.0 1626.0,783.9 1628.0,784.8 1630.0,785.7 1632.0,786.5 1634.0,787.3 1636.0,787.9 1638.0,788.5 1640.0,789.0 1642.0,789.5 1644.0,790.0 1646.0,790.5 1648.0,790.9 1650.0,791.4 1652.0,791.8 1654.0,792.2 1656.0,792.7 1658.0,793.1 1660.0,793.5 1662.0,793.9 1664.0,794.3 1666.0,794.7 1668.0,795.1 1670.0,795.5 1672.0,795.9 1674.0,796.3 1676.0,796.8 1678.0,797.2 1680.0,797.8 1682.0,798.3 1684.0,798.9 1686.0,799.6 1688.0,800.3 1690.0,801.0 1692.0,801.7 1694.0,802.5 1696.0,803.2 1698.0,804.0 1700.0,804.7 1702.0,805.5 1704.0,806.2 1706.0,806.9 1708.0,807.6 1710.0,808.3 1712.0,808.9 1714.0,809.4 1716.0,809.9 1718.0,810.4 1720.0,810.9 1722.0,811.3 1724.0,811.8 1726.0,812.2 1728.0,812.5 1730.0,812.9 1732.0,813.2 1734.0,813.5 1736.0,813.8 1738.0,814.1 1740.0,814.4 1742.0,814.7 1744.0,814.9 1746.0,815.2 1748.0,815.4 1750.0,815.7 1752.0,816.0 1754.0,816.2 1756.0,816.3 1758.0,816.4 1760.0,816.4 1762.0,816.4 1764.0,816.2 1766.0,815.9 1768.0,815.6 1770.0,815.1 1772.0,814.5 1774.0,813.7 1776.0,812.6 1778.0,811.5 1780.0,810.1 1782.0,808.6 1784.0,806.9 1786.0,805.2 1788.0,803.3 1790.0,801.3 1792.0,799.3 1794.0,797.2 1796.0,795.1 1798.0,792.9 1800.0,790.7 1802.0,788.5 1804.0,786.2 1806.0,783.9 1808.0,781.6 1810.0,779.2 1812.0,776.7 1814.0,774.1 1816.0,771.4 1818.0,768.7 1820.0,766.0 1822.0,763.3 1824.0,760.6 1826.0,758.1 1828.0,755.6 1830.0,753.4 1832.0,751.3 1834.0,749.5 1836.0,747.8 1838.0,746.3 1840.0,745.0 1842.0,743.8 1844.0,742.8 1846.0,741.8 1848.0,740.9 1850.0,740.3 1852.0,740.0 1854.0,740.0 1856.0,740.3 1858.0,740.9 1860.0,741.8 1862.0,742.9 1864.0,744.3 1866.0,745.8 1868.0,747.6 1870.0,749.6 1872.0,751.8 1874.0,754.2 1876.0,756.7 1878.0,759.4 1880.0,762.2 1882.0,765.2 1884.0,768.5 1886.0,772.1 1888.0,775.9 1890.0,779.8 1892.0,783.8 1894.0,788.0 1896.0,792.2 1898.0,796.7 1900.0,801.3 1902.0,806.0 1904.0,810.7 1906.0,815.5 1908.0,820.2 1910.0,825.0 1912.0,829.8 1914.0,834.7 1916.0,839.6 1918.0,844.4 1920.0,849.2 1922.0,853.6 1924.0,857.1 1926.0,860.1 1928.0,862.6 1930.0,865.0 1932.0,867.3 1934.0,869.5 1936.0,871.6 1938.0,873.6 1940.0,875.5 1942.0,877.1 1944.0,878.6 1946.0,880.0 1948.0,881.4 1950.0,882.8 1952.0,884.2 1954.0,885.6 1956.0,886.9 1958.0,888.2 1960.0,889.6 1962.0,890.9 1964.0,892.2 1966.0,893.4 1968.0,894.7 1970.0,895.9 1972.0,897.0 1974.0,897.7 1975.7,898.0" fill="none" stroke="#000000" stroke-width="10.3" stroke-linejoin="round" stroke-linecap="butt"/>
<path d="M316.0,673.9L318.0,674.1 320.0,674.2 322.0,674.4 324.0,674.6 326.0,674.7 328.0,674.9 330.0,675.1 332.0,675.3 334.0,675.6 336.0,675.8 338.0,676.1 340.0,676.4 342.0,676.7 344.0,677.0 346.0,677.3 348.0,677.7 350.0,678.1 352.0,678.5 354.0,678.9 356.0,679.3 358.0,679.7 360.0,680.1 362.0,680.5 364.0,680.9 366.0,681.3 368.0,681.7 370.0,682.2 372.0,682.6 374.0,683.0 376.0,683.4 378.0,683.8 380.0,684.2 382.0,684.6 384.0,685.1 386.0,685.5 388.0,685.9 390.0,686.4 392.0,686.8 394.0,687.2 396.0,687.6 398.0,688.0 400.0,688.4 402.0,688.6 404.0,688.6 406.0,688.5 408.0,688.2 410.0,687.8 412.0,687.3 414.0,686.7 416.0,686.1 418.0,685.4 420.0,684.8 422.0,684.2 424.0,683.6 426.0,683.1 428.0,682.5 430.0,681.9 432.0,681.3 434.0,680.6 436.0,680.0 438.0,679.3 440.0,678.7 442.0,678.1 444.0,677.6 446.0,677.1 448.0,676.7 450.0,676.4 452.0,676.2 454.0,676.1 456.0,676.0 458.0,676.0 460.0,676.0 462.0,676.0 464.0,676.1 466.0,676.1 468.0,676.1 470.0,676.0 472.0,675.8 474.0,675.6 476.0,675.4 478.0,675.1 480.0,674.8 482.0,674.4 484.0,674.0 486.0,673.6 488.0,673.1 490.0,672.5 492.0,671.8 494.0,671.1 496.0,670.2 498.0,669.3 500.0,668.2 502.0,667.0 504.0,665.7 506.0,664.3 508.0,662.8 510.0,661.1 512.0,659.4 514.0,657.6 516.0,655.8 518.0,654.0 520.0,652.2 522.0,650.4 524.0,648.6 526.0,646.7 528.0,644.9 530.0,643.0 532.0,641.1 534.0,639.2 536.0,637.3 538.0,635.4 540.0,633.5 542.0,631.6 544.0,629.7 546.0,627.8 548.0,625.9 550.0,624.1 552.0,622.2 554.0,620.4 556.0,618.6 558.0,616.9 560.0,615.2 562.0,613.5 564.0,611.9 566.0,610.4 568.0,608.9 570.0,607.5 572.0,606.2 574.0,605.0 576.0,603.9 578.0,602.8 580.0,601.7 582.0,600.6 584.0,599.4 586.0,598.2 588.0,596.8 590.0,595.4 592.0,594.0 594.0,592.6 596.0,591.2 598.0,589.8 600.0,588.3 602.0,586.9 604.0,585.5 606.0,584.2 608.0,582.8 610.0,581.5 612.0,580.2 614.0,578.8 616.0,577.5 618.0,576.2 620.0,574.9 622.0,573.6 624.0,572.3 626.0,571.1 628.0,569.8 630.0,568.5 632.0,567.3 634.0,566.0 636.0,564.8 638.0,563.5 640.0,562.3 642.0,561.1 644.0,559.8 646.0,558.6 648.0,557.4 650.0,556.2 652.0,555.1 654.0,554.0 656.0,552.9 658.0,551.9 660.0,551.0 662.0,550.1 664.0,549.2 666.0,548.4 668.0,547.7 670.0,546.9 672.0,546.3 674.0,545.6 676.0,545.0 678.0,544.5 680.0,544.0 682.0,543.5 684.0,543.1 686.0,542.7 688.0,542.3 690.0,541.9 692.0,541.6 694.0,541.2 696.0,540.9 698.0,540.6 700.0,540.3 702.0,540.0 704.0,539.7 706.0,539.4 708.0,539.2 710.0,538.9 712.0,538.7 714.0,538.4 716.0,538.2 718.0,538.0 720.0,537.8 722.0,537.6 724.0,537.5 726.0,537.4 728.0,537.3 730.0,537.3 732.0,537.4 734.0,537.5 736.0,537.8 738.0,538.1 740.0,538.4 742.0,538.9 744.0,539.3 746.0,539.8 748.0,540.3 750.0,540.8 752.0,541.4 754.0,542.0 756.0,542.7 758.0,543.4 760.0,544.1 762.0,544.8 764.0,545.6 766.0,546.4 768.0,547.2 770.0,548.0 772.0,548.8 774.0,549.7 776.0,550.6 778.0,551.5 780.0,552.4 782.0,553.4 784.0,554.4 786.0,555.5 788.0,556.6 790.0,557.7 792.0,558.9 794.0,560.1 796.0,561.4 798.0,562.7 800.0,564.1 802.0,565.4 804.0,566.8 806.0,568.1 808.0,569.5 810.0,570.9 812.0,572.3 814.0,573.7 816.0,575.1 818.0,576.5 820.0,577.9 822.0,579.3 824.0,580.8 826.0,582.2 828.0,583.7 830.0,585.1 832.0,586.6 834.0,588.0 836.0,589.5 838.0,591.0 840.0,592.5 842.0,594.0 844.0,595.5 846.0,597.0 848.0,598.5 850.0,600.0 852.0,601.5 854.0,603.0 856.0,604.6 858.0,606.1 860.0,607.6 862.0,609.1 864.0,610.6 866.0,612.1 868.0,613.6 870.0,615.1 872.0,616.5 874.0,618.0 876.0,619.4 878.0,620.8 880.0,622.2 882.0,623.5 884.0,624.8 886.0,626.1 888.0,627.4 890.0,628.7 892.0,629.9 894.0,631.1 896.0,632.2 898.0,633.4 900.0,634.5 902.0,635.5 904.0,636.6 906.0,637.6 908.0,638.6 910.0,639.5 912.0,640.4 914.0,641.2 916.0,642.1 918.0,642.9 920.0,643.7 922.0,644.5 924.0,645.2 926.0,646.0 928.0,646.7 930.0,647.4 932.0,648.0 934.0,648.7 936.0,649.3 938.0,650.0 940.0,650.6 942.0,651.2 944.0,651.8 946.0,652.4 948.0,652.9 950.0,653.5 952.0,654.0 954.0,654.6 956.0,655.2 958.0,655.7 960.0,656.3 962.0,656.8 964.0,657.4 966.0,657.9 968.0,658.4 970.0,658.9 972.0,659.4 974.0,659.9 976.0,660.4 978.0,660.9 980.0,661.3 982.0,661.8 984.0,662.2 986.0,662.6 988.0,662.9 990.0,663.3 992.0,663.6 994.0,663.9 996.0,664.3 998.0,664.6 1000.0,664.8 1002.0,665.1 1004.0,665.4 1006.0,665.7 1008.0,666.0 1010.0,666.2 1012.0,666.5 1014.0,666.8 1016.0,667.0 1018.0,667.3 1020.0,667.6 1022.0,667.9 1024.0,668.2 1026.0,668.6 1028.0,668.9 1030.0,669.2 1032.0,669.6 1034.0,669.9 1036.0,670.3 1038.0,670.7 1040.0,671.0 1042.0,671.4 1044.0,671.8 1046.0,672.2 1048.0,672.6 1050.0,673.1 1052.0,673.5 1054.0,673.9 1056.0,674.4 1058.0,674.8 1060.0,675.3 1062.0,675.7 1064.0,676.2 1066.0,676.8 1068.0,677.4 1070.0,678.0 1072.0,678.8 1074.0,679.6 1076.0,680.4 1078.0,681.3 1080.0,682.2 1082.0,683.2 1084.0,684.2 1086.0,685.2 1088.0,686.3 1090.0,687.3 1092.0,688.4 1094.0,689.5 1096.0,690.7 1098.0,692.0 1100.0,693.3 1102.0,694.7 1104.0,696.2 1106.0,697.7 1108.0,699.1 1110.0,700.6 1112.0,702.1 1114.0,703.4 1116.0,704.8 1118.0,706.0 1120.0,707.2 1122.0,708.3 1124.0,709.3 1126.0,710.3 1128.0,711.2 1130.0,712.1 1132.0,712.9 1134.0,713.6 1136.0,714.3 1138.0,714.9 1140.0,715.5 1142.0,716.0 1144.0,716.4 1146.0,716.7 1148.0,717.0 1150.0,717.2 1152.0,717.4 1154.0,717.5 1156.0,717.6 1158.0,717.7 1160.0,717.6 1162.0,717.6 1164.0,717.5 1166.0,717.3 1168.0,717.0 1170.0,716.8 1172.0,716.4 1174.0,716.0 1176.0,715.5 1178.0,715.0 1180.0,714.4 1182.0,713.7 1184.0,713.1 1186.0,712.4 1188.0,711.7 1190.0,711.0 1192.0,710.3 1194.0,709.6 1196.0,708.9 1198.0,708.2 1200.0,707.6 1202.0,706.9 1204.0,706.3 1206.0,705.7 1208.0,705.0 1210.0,704.4 1212.0,703.7 1214.0,703.0 1216.0,702.3 1218.0,701.7 1220.0,701.1 1222.0,700.6 1224.0,700.1 1226.0,699.8 1228.0,699.7 1230.0,699.7 1232.0,699.9 1234.0,700.1 1236.0,700.4 1238.0,700.7 1240.0,701.0 1242.0,701.3 1244.0,701.7 1246.0,702.1 1248.0,702.4 1250.0,702.8 1252.0,703.2 1254.0,703.6 1256.0,704.0 1258.0,704.4 1260.0,704.9 1262.0,705.3 1264.0,705.7 1266.0,706.1 1268.0,706.5 1270.0,706.9 1272.0,707.2 1274.0,707.6 1276.0,708.0 1278.0,708.4 1280.0,708.8 1282.0,709.2 1284.0,709.6 1286.0,710.0 1288.0,710.4 1290.0,710.8 1292.0,711.2 1294.0,711.6 1296.0,712.0 1298.0,712.4 1300.0,712.8 1302.0,713.2 1304.0,713.6 1306.0,714.0 1308.0,714.4 1310.0,714.8 1312.0,715.2 1314.0,715.6 1316.0,716.0 1318.0,716.4 1320.0,716.9 1322.0,717.3 1324.0,717.9 1326.0,718.6 1328.0,719.4 1330.0,720.3 1332.0,721.3 1334.0,722.3 1336.0,723.4 1338.0,724.4 1340.0,725.4 1342.0,726.4 1344.0,727.4 1346.0,728.4 1348.0,729.5 1350.0,730.6 1352.0,731.8 1354.0,733.1 1356.0,734.5 1358.0,736.0 1360.0,737.6 1362.0,739.2 1364.0,740.9 1366.0,742.6 1368.0,744.4 1370.0,746.1 1372.0,747.9 1374.0,749.6 1376.0,751.3 1378.0,753.0 1380.0,754.7 1382.0,756.3 1384.0,758.0 1386.0,759.7 1388.0,761.3 1390.0,763.0 1392.0,764.7 1394.0,766.3 1396.0,767.9 1398.0,769.5 1400.0,771.1 1402.0,772.6 1404.0,774.1 1406.0,775.5 1408.0,776.9 1410.0,778.2 1412.0,779.6 1414.0,780.9 1416.0,782.3 1418.0,783.6 1420.0,784.9 1422.0,786.3 1424.0,787.6 1426.0,788.9 1428.0,790.3 1430.0,791.6 1432.0,792.9 1434.0,794.3 1436.0,795.6 1438.0,796.9 1440.0,798.3 1442.0,799.6 1444.0,800.9 1446.0,802.3 1448.0,803.6 1450.0,805.0 1452.0,806.3 1454.0,807.6 1456.0,808.9 1458.0,810.3 1460.0,811.6 1462.0,812.9 1464.0,814.2 1466.0,815.5 1468.0,816.6 1470.0,817.7 1472.0,818.7 1474.0,819.7 1476.0,820.6 1478.0,821.4 1480.0,822.2 1482.0,823.0 1484.0,823.9 1486.0,824.7 1488.0,825.5 1490.0,826.4 1492.0,827.4 1494.0,828.4 1496.0,829.4 1498.0,830.4 1500.0,831.4 1502.0,832.4 1504.0,833.4 1506.0,834.5 1508.0,835.5 1510.0,836.6 1512.0,837.6 1514.0,838.7 1516.0,839.9 1518.0,841.0 1520.0,842.2 1522.0,843.4 1524.0,844.6 1526.0,845.9 1528.0,847.1 1530.0,848.4 1532.0,849.7 1534.0,851.0 1536.0,852.4 1538.0,853.7 1540.0,855.0 1542.0,856.3 1544.0,857.7 1546.0,859.1 1548.0,860.5 1550.0,861.9 1552.0,863.2 1554.0,864.6 1556.0,865.9 1558.0,867.2 1560.0,868.5 1562.0,869.7 1564.0,871.0 1566.0,872.2 1568.0,873.4 1570.0,874.6 1572.0,875.8 1574.0,877.0 1576.0,878.2 1578.0,879.4 1580.0,880.6 1582.0,881.8 1584.0,883.0 1586.0,884.2 1588.0,885.4 1590.0,886.6 1592.0,887.8 1594.0,889.0 1596.0,890.2 1598.0,891.4 1600.0,892.6 1602.0,893.8 1604.0,895.0 1606.0,896.2 1608.0,897.4 1610.0,898.5 1612.0,899.7 1614.0,900.8 1616.0,901.9 1618.0,902.7 1620.0,903.5 1622.0,904.2 1624.0,904.8 1626.0,905.3 1628.0,905.9 1630.0,906.5 1632.0,907.1 1634.0,907.8 1636.0,908.5 1638.0,909.4 1640.0,910.3 1642.0,911.2 1644.0,912.0 1646.0,912.9 1648.0,913.8 1650.0,914.7 1652.0,915.5 1654.0,916.4 1656.0,917.3 1658.0,918.2 1660.0,919.1 1662.0,919.9 1664.0,920.8 1666.0,921.7 1668.0,922.6 1670.0,923.4 1672.0,924.3 1674.0,925.2 1676.0,926.1 1678.0,927.0 1680.0,927.8 1682.0,928.7 1684.0,929.6 1686.0,930.5 1688.0,931.3 1690.0,932.2 1692.0,933.1 1694.0,934.0 1696.0,934.8 1698.0,935.7 1700.0,936.6 1702.0,937.5 1704.0,938.4 1706.0,939.2 1708.0,940.1 1710.0,941.0 1712.0,941.9 1714.0,942.7 1716.0,943.6 1718.0,944.5 1720.0,945.3 1722.0,946.2 1724.0,947.1 1726.0,947.9 1728.0,948.8 1730.0,949.6 1732.0,950.4 1734.0,951.0 1736.0,951.6 1738.0,952.0 1740.0,952.5 1742.0,952.8 1744.0,953.1 1746.0,953.3 1748.0,953.5 1750.0,953.7 1752.0,953.8 1754.0,953.9 1756.0,954.0 1758.0,954.1 1760.0,954.1 1762.0,954.2 1764.0,954.3 1766.0,954.4 1768.0,954.5 1770.0,954.6 1772.0,954.8 1774.0,955.0 1776.0,955.2 1778.0,955.3 1780.0,955.5 1782.0,955.7 1784.0,955.9 1786.0,956.0 1788.0,956.2 1790.0,956.3 1792.0,956.4 1794.0,956.5 1796.0,956.6 1798.0,956.7 1800.0,956.8 1802.0,956.8 1804.0,956.8 1806.0,956.8 1808.0,956.7 1810.0,956.7 1812.0,956.5 1814.0,956.3 1816.0,956.0 1818.0,955.7 1820.0,955.3 1822.0,954.9 1824.0,954.5 1826.0,954.1 1828.0,953.6 1830.0,953.2 1832.0,952.8 1834.0,952.5 1836.0,952.1 1838.0,951.9 1840.0,951.6 1842.0,951.4 1844.0,951.2 1846.0,951.1 1848.0,951.0 1850.0,950.9 1852.0,950.8 1854.0,950.8 1856.0,950.8 1858.0,950.9 1860.0,951.0 1862.0,951.2 1864.0,951.6 1866.0,952.1 1868.0,952.8 1870.0,953.6 1872.0,954.6 1874.0,955.7 1876.0,957.1 1878.0,958.6 1880.0,960.2 1882.0,961.9 1884.0,963.6 1886.0,965.3 1888.0,967.1 1890.0,968.8 1892.0,970.6 1894.0,972.3 1896.0,974.1 1898.0,975.8 1900.0,977.5 1902.0,979.2 1904.0,980.9 1906.0,982.6 1908.0,984.3 1910.0,986.0 1912.0,987.6 1914.0,989.3 1916.0,991.0 1918.0,992.7 1920.0,994.3 1922.0,995.9 1924.0,997.5 1926.0,999.1 1928.0,1000.7 1930.0,1002.2 1932.0,1003.6 1934.0,1005.0 1936.0,1006.3 1938.0,1007.4 1940.0,1008.3 1942.0,1009.1 1944.0,1009.8 1946.0,1010.4 1948.0,1010.9 1950.0,1011.4 1952.0,1011.8 1954.0,1012.3 1956.0,1012.7 1958.0,1013.2 1960.0,1013.7 1962.0,1014.1 1964.0,1014.5 1966.0,1014.9 1968.0,1015.3 1970.0,1015.6 1972.0,1015.9 1974.0,1016.2 1975.7,1016.4" fill="none" stroke="#ff0000" stroke-width="10.3" stroke-linejoin="round" stroke-linecap="butt"/>
<path d="M316.0,754.2L318.0,754.7 320.0,755.1 322.0,755.5 324.0,755.9 326.0,756.3 328.0,756.6 330.0,756.9 332.0,757.2 334.0,757.5 336.0,757.7 338.0,758.0 340.0,758.2 342.0,758.3 344.0,758.4 346.0,758.5 348.0,758.5 350.0,758.5 352.0,758.6 354.0,758.6 356.0,758.6 358.0,758.6 360.0,758.6 362.0,758.7 364.0,758.8 366.0,758.9 368.0,759.1 370.0,759.4 372.0,759.7 374.0,760.1 376.0,760.5 378.0,761.0 380.0,761.5 382.0,762.0 384.0,762.5 386.0,763.0 388.0,763.4 390.0,763.8 392.0,764.2 394.0,764.5 396.0,764.7 398.0,764.9 400.0,765.0 402.0,765.1 404.0,765.2 406.0,765.2 408.0,765.1 410.0,765.0 412.0,764.8 414.0,764.6 416.0,764.3 418.0,763.9 420.0,763.4 422.0,762.9 424.0,762.3 426.0,761.8 428.0,761.3 430.0,760.7 432.0,760.1 434.0,759.6 436.0,759.0 438.0,758.5 440.0,757.9 442.0,757.4 444.0,756.9 446.0,756.4 448.0,755.9 450.0,755.5 452.0,755.0 454.0,754.6 456.0,754.1 458.0,753.7 460.0,753.2 462.0,752.7 464.0,752.3 466.0,751.8 468.0,751.4 470.0,750.9 472.0,750.4 474.0,749.9 476.0,749.4 478.0,748.9 480.0,748.4 482.0,747.8 484.0,747.2 486.0,746.4 488.0,745.5 490.0,744.5 492.0,743.3 494.0,742.0 496.0,740.8 498.0,739.5 500.0,738.2 502.0,736.9 504.0,735.6 506.0,734.3 508.0,733.0 510.0,731.7 512.0,730.4 514.0,729.0 516.0,727.7 518.0,726.4 520.0,725.1 522.0,723.8 524.0,722.4 526.0,721.1 528.0,719.8 530.0,718.6 532.0,717.5 534.0,716.7 536.0,716.1 538.0,715.4 540.0,714.5 542.0,713.5 544.0,712.5 546.0,711.5 548.0,710.5 550.0,709.5 552.0,708.5 554.0,707.5 556.0,706.5 558.0,705.5 560.0,704.5 562.0,703.5 564.0,702.5 566.0,701.4 568.0,700.4 570.0,699.4 572.0,698.4 574.0,697.4 576.0,696.5 578.0,695.7 580.0,695.0 582.0,694.3 584.0,693.7 586.0,693.1 588.0,692.4 590.0,691.7 592.0,690.8 594.0,689.8 596.0,688.8 598.0,687.8 600.0,686.7 602.0,685.6 604.0,684.6 606.0,683.6 608.0,682.7 610.0,681.9 612.0,681.1 614.0,680.3 616.0,679.4 618.0,678.6 620.0,677.9 622.0,677.1 624.0,676.3 626.0,675.6 628.0,674.8 630.0,674.0 632.0,673.3 634.0,672.5 636.0,671.8 638.0,671.1 640.0,670.4 642.0,669.8 644.0,669.3 646.0,668.7 648.0,668.2 650.0,667.7 652.0,667.2 654.0,666.7 656.0,666.1 658.0,665.6 660.0,665.0 662.0,664.5 664.0,663.9 666.0,663.3 668.0,662.8 670.0,662.2 672.0,661.6 674.0,661.0 676.0,660.5 678.0,659.9 680.0,659.3 682.0,658.8 684.0,658.3 686.0,657.8 688.0,657.3 690.0,656.8 692.0,656.3 694.0,655.9 696.0,655.6 698.0,655.4 700.0,655.2 702.0,655.1 704.0,655.1 706.0,655.1 708.0,655.2 710.0,655.4 712.0,655.6 714.0,655.8 716.0,656.0 718.0,656.2 720.0,656.5 722.0,656.8 724.0,657.1 726.0,657.4 728.0,657.7 730.0,658.0 732.0,658.3 734.0,658.7 736.0,659.0 738.0,659.3 740.0,659.7 742.0,660.1 744.0,660.5 746.0,660.9 748.0,661.4 750.0,661.9 752.0,662.4 754.0,663.0 756.0,663.7 758.0,664.4 760.0,665.1 762.0,665.9 764.0,666.6 766.0,667.4 768.0,668.2 770.0,669.0 772.0,669.8 774.0,670.6 776.0,671.4 778.0,672.2 780.0,673.0 782.0,673.9 784.0,674.8 786.0,675.8 788.0,676.7 790.0,677.8 792.0,678.9 794.0,680.2 796.0,681.5 798.0,682.8 800.0,684.2 802.0,685.6 804.0,687.0 806.0,688.3 808.0,689.6 810.0,690.8 812.0,691.9 814.0,693.1 816.0,694.2 818.0,695.4 820.0,696.7 822.0,698.1 824.0,699.5 826.0,700.9 828.0,702.4 830.0,703.8 832.0,705.3 834.0,706.8 836.0,708.3 838.0,709.9 840.0,711.5 842.0,713.1 844.0,714.7 846.0,716.3 848.0,718.0 850.0,719.6 852.0,721.2 854.0,722.9 856.0,724.5 858.0,726.1 860.0,727.6 862.0,729.2 864.0,730.6 866.0,732.1 868.0,733.5 870.0,734.8 872.0,736.0 874.0,737.2 876.0,738.3 878.0,739.3 880.0,740.4 882.0,741.4 884.0,742.4 886.0,743.4 888.0,744.5 890.0,745.6 892.0,746.6 894.0,747.6 896.0,748.6 898.0,749.5 900.0,750.3 902.0,751.0 904.0,751.7 906.0,752.4 908.0,753.1 910.0,753.7 912.0,754.4 914.0,755.1 916.0,755.8 918.0,756.4 920.0,757.2 922.0,757.9 924.0,758.6 926.0,759.3 928.0,760.0 930.0,760.7 932.0,761.4 934.0,762.0 936.0,762.7 938.0,763.3 940.0,763.9 942.0,764.5 944.0,765.0 946.0,765.5 948.0,766.0 950.0,766.4 952.0,766.8 954.0,767.2 956.0,767.5 958.0,767.8 960.0,768.0 962.0,768.3 964.0,768.5 966.0,768.7 968.0,768.9 970.0,769.1 972.0,769.3 974.0,769.5 976.0,769.7 978.0,769.9 980.0,770.1 982.0,770.3 984.0,770.6 986.0,770.8 988.0,771.1 990.0,771.4 992.0,771.7 994.0,772.0 996.0,772.3 998.0,772.6 1000.0,772.9 1002.0,773.2 1004.0,773.5 1006.0,773.8 1008.0,774.1 1010.0,774.4 1012.0,774.7 1014.0,775.0 1016.0,775.3 1018.0,775.6 1020.0,775.9 1022.0,776.2 1024.0,776.5 1026.0,776.9 1028.0,777.2 1030.0,777.5 1032.0,777.8 1034.0,778.2 1036.0,778.5 1038.0,778.9 1040.0,779.2 1042.0,779.6 1044.0,780.0 1046.0,780.4 1048.0,780.9 1050.0,781.3 1052.0,781.8 1054.0,782.3 1056.0,782.9 1058.0,783.5 1060.0,784.1 1062.0,784.7 1064.0,785.4 1066.0,786.2 1068.0,787.0 1070.0,787.9 1072.0,788.9 1074.0,789.8 1076.0,790.8 1078.0,791.8 1080.0,792.7 1082.0,793.7 1084.0,794.7 1086.0,795.6 1088.0,796.6 1090.0,797.5 1092.0,798.5 1094.0,799.5 1096.0,800.4 1098.0,801.4 1100.0,802.3 1102.0,803.3 1104.0,804.2 1106.0,805.2 1108.0,806.1 1110.0,807.1 1112.0,808.0 1114.0,809.0 1116.0,809.9 1118.0,810.9 1120.0,811.8 1122.0,812.7 1124.0,813.6 1126.0,814.5 1128.0,815.3 1130.0,816.0 1132.0,816.8 1134.0,817.5 1136.0,818.1 1138.0,818.7 1140.0,819.3 1142.0,819.8 1144.0,820.3 1146.0,820.7 1148.0,821.1 1150.0,821.5 1152.0,821.8 1154.0,822.0 1156.0,822.2 1158.0,822.4 1160.0,822.5 1162.0,822.6 1164.0,822.6 1166.0,822.6 1168.0,822.6 1170.0,822.5 1172.0,822.5 1174.0,822.4 1176.0,822.2 1178.0,822.1 1180.0,822.0 1182.0,821.8 1184.0,821.7 1186.0,821.5 1188.0,821.3 1190.0,821.1 1192.0,820.9 1194.0,820.6 1196.0,820.3 1198.0,820.1 1200.0,819.7 1202.0,819.4 1204.0,819.1 1206.0,818.8 1208.0,818.5 1210.0,818.2 1212.0,817.9 1214.0,817.7 1216.0,817.4 1218.0,817.2 1220.0,817.0 1222.0,816.9 1224.0,816.8 1226.0,816.7 1228.0,816.7 1230.0,816.7 1232.0,816.7 1234.0,816.8 1236.0,817.0 1238.0,817.2 1240.0,817.4 1242.0,817.6 1244.0,817.9 1246.0,818.1 1248.0,818.5 1250.0,818.8 1252.0,819.1 1254.0,819.5 1256.0,819.8 1258.0,820.2 1260.0,820.6 1262.0,821.0 1264.0,821.4 1266.0,821.8 1268.0,822.2 1270.0,822.6 1272.0,823.0 1274.0,823.5 1276.0,823.9 1278.0,824.4 1280.0,824.9 1282.0,825.4 1284.0,825.9 1286.0,826.4 1288.0,826.9 1290.0,827.4 1292.0,828.0 1294.0,828.6 1296.0,829.1 1298.0,829.7 1300.0,830.4 1302.0,831.0 1304.0,831.7 1306.0,832.3 1308.0,833.0 1310.0,833.7 1312.0,834.4 1314.0,835.1 1316.0,835.9 1318.0,836.6 1320.0,837.4 1322.0,838.1 1324.0,838.9 1326.0,839.7 1328.0,840.5 1330.0,841.4 1332.0,842.2 1334.0,843.1 1336.0,844.0 1338.0,844.9 1340.0,845.9 1342.0,846.9 1344.0,848.0 1346.0,849.0 1348.0,850.2 1350.0,851.3 1352.0,852.5 1354.0,853.8 1356.0,855.1 1358.0,856.4 1360.0,857.8 1362.0,859.2 1364.0,860.6 1366.0,862.0 1368.0,863.4 1370.0,864.8 1372.0,866.2 1374.0,867.6 1376.0,869.0 1378.0,870.3 1380.0,871.6 1382.0,872.9 1384.0,874.1 1386.0,875.2 1388.0,876.4 1390.0,877.5 1392.0,878.6 1394.0,879.7 1396.0,880.9 1398.0,882.0 1400.0,883.1 1402.0,884.3 1404.0,885.4 1406.0,886.7 1408.0,887.9 1410.0,889.3 1412.0,891.1 1414.0,893.0 1416.0,894.8 1418.0,896.2 1420.0,897.5 1422.0,898.8 1424.0,900.1 1426.0,901.3 1428.0,902.5 1430.0,903.8 1432.0,905.0 1434.0,906.2 1436.0,907.3 1438.0,908.5 1440.0,909.6 1442.0,910.8 1444.0,911.9 1446.0,913.0 1448.0,914.1 1450.0,915.2 1452.0,916.3 1454.0,917.4 1456.0,918.5 1458.0,919.6 1460.0,920.7 1462.0,921.8 1464.0,922.8 1466.0,923.9 1468.0,924.9 1470.0,925.9 1472.0,927.0 1474.0,928.0 1476.0,928.9 1478.0,929.8 1480.0,930.6 1482.0,931.3 1484.0,932.0 1486.0,932.7 1488.0,933.4 1490.0,934.0 1492.0,934.7 1494.0,935.5 1496.0,936.2 1498.0,937.1 1500.0,938.0 1502.0,939.0 1504.0,940.1 1506.0,941.2 1508.0,942.4 1510.0,943.5 1512.0,944.7 1514.0,945.8 1516.0,946.9 1518.0,948.1 1520.0,949.2 1522.0,950.4 1524.0,951.5 1526.0,952.7 1528.0,953.8 1530.0,955.0 1532.0,956.1 1534.0,957.3 1536.0,958.4 1538.0,959.6 1540.0,960.7 1542.0,961.8 1544.0,963.0 1546.0,964.1 1548.0,965.2 1550.0,966.3 1552.0,967.5 1554.0,968.6 1556.0,969.7 1558.0,970.9 1560.0,972.0 1562.0,973.2 1564.0,974.3 1566.0,975.6 1568.0,976.8 1570.0,978.0 1572.0,979.3 1574.0,980.6 1576.0,981.9 1578.0,983.2 1580.0,984.5 1582.0,985.7 1584.0,987.0 1586.0,988.2 1588.0,989.4 1590.0,990.6 1592.0,991.8 1594.0,992.9 1596.0,993.9 1598.0,995.0 1600.0,995.9 1602.0,996.9 1604.0,997.8 1606.0,998.7 1608.0,999.5 1610.0,1000.4 1612.0,1001.2 1614.0,1002.0 1616.0,1002.8 1618.0,1003.6 1620.0,1004.4 1622.0,1005.1 1624.0,1005.9 1626.0,1006.6 1628.0,1007.4 1630.0,1008.1 1632.0,1008.9 1634.0,1009.6 1636.0,1010.4 1638.0,1011.1 1640.0,1011.9 1642.0,1012.6 1644.0,1013.4 1646.0,1014.1 1648.0,1014.9 1650.0,1015.6 1652.0,1016.4 1654.0,1017.1 1656.0,1017.9 1658.0,1018.6 1660.0,1019.4 1662.0,1020.1 1664.0,1020.9 1666.0,1021.6 1668.0,1022.4 1670.0,1023.1 1672.0,1023.9 1674.0,1024.7 1676.0,1025.4 1678.0,1026.2 1680.0,1027.0 1682.0,1027.8 1684.0,1028.7 1686.0,1029.5 1688.0,1030.4 1690.0,1031.2 1692.0,1032.1 1694.0,1033.0 1696.0,1033.8 1698.0,1034.6 1700.0,1035.5 1702.0,1036.3 1704.0,1037.1 1706.0,1037.8 1708.0,1038.5 1710.0,1039.3 1712.0,1039.9 1714.0,1040.5 1716.0,1041.1 1718.0,1041.7 1720.0,1042.3 1722.0,1042.8 1724.0,1043.3 1726.0,1043.8 1728.0,1044.3 1730.0,1044.8 1732.0,1045.3 1734.0,1045.7 1736.0,1046.2 1738.0,1046.6 1740.0,1047.1 1742.0,1047.6 1744.0,1048.0 1746.0,1048.5 1748.0,1049.0 1750.0,1049.5 1752.0,1050.0 1754.0,1050.6 1756.0,1051.1 1758.0,1051.6 1760.0,1052.1 1762.0,1052.7 1764.0,1053.2 1766.0,1053.7 1768.0,1054.3 1770.0,1054.8 1772.0,1055.3 1774.0,1055.9 1776.0,1056.4 1778.0,1057.0 1780.0,1057.5 1782.0,1058.1 1784.0,1058.7 1786.0,1059.4 1788.0,1060.1 1790.0,1060.9 1792.0,1061.7 1794.0,1062.5 1796.0,1063.3 1798.0,1064.1 1800.0,1064.9 1802.0,1065.7 1804.0,1066.4 1806.0,1067.1 1808.0,1067.8 1810.0,1068.4 1812.0,1069.0 1814.0,1069.5 1816.0,1070.0 1818.0,1070.5 1820.0,1070.9 1822.0,1071.3 1824.0,1071.7 1826.0,1072.0 1828.0,1072.4 1830.0,1072.7 1832.0,1073.0 1834.0,1073.3 1836.0,1073.6 1838.0,1073.9 1840.0,1074.2 1842.0,1074.3 1844.0,1074.3 1846.0,1074.3 1848.0,1074.2 1850.0,1074.1 1852.0,1074.0 1854.0,1073.9 1856.0,1073.8 1858.0,1073.8 1860.0,1073.9 1862.0,1074.0 1864.0,1074.3 1866.0,1074.7 1868.0,1075.2 1870.0,1075.9 1872.0,1076.6 1874.0,1077.4 1876.0,1078.4 1878.0,1079.3 1880.0,1080.4 1882.0,1081.4 1884.0,1082.5 1886.0,1083.6 1888.0,1084.8 1890.0,1085.9 1892.0,1087.1 1894.0,1088.4 1896.0,1089.6 1898.0,1090.9 1900.0,1092.2 1902.0,1093.4 1904.0,1094.7 1906.0,1095.9 1908.0,1097.1 1910.0,1098.3 1912.0,1099.4 1914.0,1100.5 1916.0,1101.6 1918.0,1102.6 1920.0,1103.6 1922.0,1104.5 1924.0,1105.4 1926.0,1106.3 1928.0,1107.1 1930.0,1107.9 1932.0,1108.6 1934.0,1109.3 1936.0,1110.0 1938.0,1110.7 1940.0,1111.3 1942.0,1111.9 1944.0,1112.4 1946.0,1113.0 1948.0,1113.4 1950.0,1113.8 1952.0,1114.2 1954.0,1114.6 1956.0,1114.8 1958.0,1115.1 1960.0,1115.3 1962.0,1115.5 1964.0,1115.6 1966.0,1115.7 1968.0,1115.8 1970.0,1115.8 1972.0,1115.8 1974.0,1115.8 1975.7,1115.7" fill="none" stroke="#0000ff" stroke-width="10.3" stroke-linejoin="round" stroke-linecap="butt"/>
<path d="M316.0,881.5L318.0,881.4 320.0,881.2 322.0,881.1 324.0,880.9 326.0,880.8 328.0,880.7 330.0,880.6 332.0,880.6 334.0,880.5 336.0,880.4 338.0,880.4 340.0,880.4 342.0,880.4 344.0,880.5 346.0,880.5 348.0,880.6 350.0,880.7 352.0,880.8 354.0,880.9 356.0,881.1 358.0,881.2 360.0,881.3 362.0,881.5 364.0,881.6 366.0,881.7 368.0,881.9 370.0,882.0 372.0,882.2 374.0,882.3 376.0,882.5 378.0,882.6 380.0,882.8 382.0,882.9 384.0,883.1 386.0,883.3 388.0,883.5 390.0,883.7 392.0,883.9 394.0,884.1 396.0,884.3 398.0,884.5 400.0,884.6 402.0,884.8 404.0,884.9 406.0,885.0 408.0,885.0 410.0,884.9 412.0,884.6 414.0,884.3 416.0,883.9 418.0,883.4 420.0,882.8 422.0,882.3 424.0,881.7 426.0,881.0 428.0,880.4 430.0,879.8 432.0,879.1 434.0,878.5 436.0,877.8 438.0,877.1 440.0,876.3 442.0,875.5 444.0,874.7 446.0,873.9 448.0,873.1 450.0,872.2 452.0,871.4 454.0,870.6 456.0,869.8 458.0,869.0 460.0,868.3 462.0,867.7 464.0,867.1 466.0,866.4 468.0,865.8 470.0,865.1 472.0,864.3 474.0,863.4 476.0,862.4 478.0,861.2 480.0,860.0 482.0,858.6 484.0,857.3 486.0,855.8 488.0,854.4 490.0,852.9 492.0,851.4 494.0,850.0 496.0,848.5 498.0,847.1 500.0,845.6 502.0,844.2 504.0,842.7 506.0,841.2 508.0,839.8 510.0,838.3 512.0,836.8 514.0,835.4 516.0,833.9 518.0,832.4 520.0,831.0 522.0,829.5 524.0,828.0 526.0,826.5 528.0,824.9 530.0,823.1 532.0,821.2 534.0,819.2 536.0,817.2 538.0,815.3 540.0,813.4 542.0,811.6 544.0,809.8 546.0,808.1 548.0,806.4 550.0,804.7 552.0,803.1 554.0,801.5 556.0,800.0 558.0,798.6 560.0,797.3 562.0,796.1 564.0,794.9 566.0,793.7 568.0,792.6 570.0,791.5 572.0,790.4 574.0,789.3 576.0,788.2 578.0,787.1 580.0,786.1 582.0,785.0 584.0,784.0 586.0,782.9 588.0,781.9 590.0,780.8 592.0,779.7 594.0,778.7 596.0,777.6 598.0,776.4 600.0,775.3 602.0,774.1 604.0,773.0 606.0,771.9 608.0,770.9 610.0,769.8 612.0,768.9 614.0,767.9 616.0,767.0 618.0,766.1 620.0,765.2 622.0,764.4 624.0,763.5 626.0,762.6 628.0,761.8 630.0,760.9 632.0,760.1 634.0,759.3 636.0,758.5 638.0,757.6 640.0,756.8 642.0,755.9 644.0,755.0 646.0,754.0 648.0,752.9 650.0,751.7 652.0,750.5 654.0,749.3 656.0,748.2 658.0,747.1 660.0,746.2 662.0,745.2 664.0,744.4 666.0,743.6 668.0,742.8 670.0,742.1 672.0,741.5 674.0,741.0 676.0,740.6 678.0,740.3 680.0,740.0 682.0,739.8 684.0,739.6 686.0,739.4 688.0,739.2 690.0,739.1 692.0,739.0 694.0,738.9 696.0,738.7 698.0,738.6 700.0,738.5 702.0,738.5 704.0,738.4 706.0,738.4 708.0,738.5 710.0,738.5 712.0,738.7 714.0,738.9 716.0,739.0 718.0,739.3 720.0,739.5 722.0,739.8 724.0,740.0 726.0,740.3 728.0,740.6 730.0,740.8 732.0,741.1 734.0,741.3 736.0,741.5 738.0,741.8 740.0,742.1 742.0,742.4 744.0,742.8 746.0,743.3 748.0,743.9 750.0,744.5 752.0,745.3 754.0,746.1 756.0,746.9 758.0,747.8 760.0,748.6 762.0,749.4 764.0,750.3 766.0,751.1 768.0,751.9 770.0,752.8 772.0,753.6 774.0,754.5 776.0,755.5 778.0,756.5 780.0,757.6 782.0,758.8 784.0,760.1 786.0,761.4 788.0,762.8 790.0,764.2 792.0,765.6 794.0,767.0 796.0,768.4 798.0,769.7 800.0,771.1 802.0,772.5 804.0,773.9 806.0,775.3 808.0,776.7 810.0,778.1 812.0,779.5 814.0,780.9 816.0,782.3 818.0,783.7 820.0,785.1 822.0,786.5 824.0,787.9 826.0,789.3 828.0,790.7 830.0,792.1 832.0,793.6 834.0,795.0 836.0,796.6 838.0,798.3 840.0,800.1 842.0,801.9 844.0,803.7 846.0,805.4 848.0,807.0 850.0,808.5 852.0,810.0 854.0,811.6 856.0,813.1 858.0,814.5 860.0,816.0 862.0,817.4 864.0,818.9 866.0,820.3 868.0,821.7 870.0,823.1 872.0,824.5 874.0,825.8 876.0,827.2 878.0,828.6 880.0,830.0 882.0,831.3 884.0,832.7 886.0,834.0 888.0,835.3 890.0,836.6 892.0,837.8 894.0,838.9 896.0,840.1 898.0,841.2 900.0,842.3 902.0,843.4 904.0,844.5 906.0,845.6 908.0,846.7 910.0,847.8 912.0,848.9 914.0,850.0 916.0,851.1 918.0,852.2 920.0,853.3 922.0,854.4 924.0,855.5 926.0,856.4 928.0,857.2 930.0,857.9 932.0,858.5 934.0,859.2 936.0,859.8 938.0,860.4 940.0,861.0 942.0,861.6 944.0,862.2 946.0,862.8 948.0,863.2 950.0,863.6 952.0,863.9 954.0,864.3 956.0,864.6 958.0,864.9 960.0,865.2 962.0,865.5 964.0,865.8 966.0,866.1 968.0,866.4 970.0,866.7 972.0,867.0 974.0,867.3 976.0,867.6 978.0,867.9 980.0,868.2 982.0,868.4 984.0,868.6 986.0,868.8 988.0,869.0 990.0,869.1 992.0,869.3 994.0,869.5 996.0,869.6 998.0,869.8 1000.0,869.9 1002.0,870.0 1004.0,870.1 1006.0,870.3 1008.0,870.5 1010.0,870.8 1012.0,871.3 1014.0,871.7 1016.0,872.2 1018.0,872.7 1020.0,873.1 1022.0,873.4 1024.0,873.7 1026.0,873.8 1028.0,874.0 1030.0,874.1 1032.0,874.3 1034.0,874.5 1036.0,874.8 1038.0,875.2 1040.0,875.6 1042.0,876.0 1044.0,876.4 1046.0,876.9 1048.0,877.4 1050.0,878.0 1052.0,878.6 1054.0,879.2 1056.0,880.0 1058.0,880.7 1060.0,881.6 1062.0,882.5 1064.0,883.5 1066.0,884.5 1068.0,885.5 1070.0,886.6 1072.0,887.6 1074.0,888.7 1076.0,889.8 1078.0,890.9 1080.0,892.0 1082.0,893.1 1084.0,894.2 1086.0,895.3 1088.0,896.4 1090.0,897.4 1092.0,898.5 1094.0,899.5 1096.0,900.6 1098.0,901.6 1100.0,902.6 1102.0,903.6 1104.0,904.7 1106.0,905.7 1108.0,906.7 1110.0,907.7 1112.0,908.6 1114.0,909.6 1116.0,910.6 1118.0,911.6 1120.0,912.5 1122.0,913.4 1124.0,914.3 1126.0,915.0 1128.0,915.8 1130.0,916.4 1132.0,917.0 1134.0,917.6 1136.0,918.1 1138.0,918.6 1140.0,919.0 1142.0,919.4 1144.0,919.7 1146.0,920.0 1148.0,920.3 1150.0,920.6 1152.0,920.8 1154.0,921.0 1156.0,921.1 1158.0,921.3 1160.0,921.4 1162.0,921.5 1164.0,921.5 1166.0,921.6 1168.0,921.6 1170.0,921.6 1172.0,921.6 1174.0,921.5 1176.0,921.5 1178.0,921.4 1180.0,921.3 1182.0,921.1 1184.0,920.9 1186.0,920.7 1188.0,920.5 1190.0,920.3 1192.0,920.0 1194.0,919.7 1196.0,919.5 1198.0,919.2 1200.0,918.9 1202.0,918.7 1204.0,918.4 1206.0,918.2 1208.0,918.0 1210.0,917.9 1212.0,917.7 1214.0,917.6 1216.0,917.6 1218.0,917.6 1220.0,917.6 1222.0,917.6 1224.0,917.7 1226.0,917.8 1228.0,918.0 1230.0,918.1 1232.0,918.3 1234.0,918.6 1236.0,918.8 1238.0,919.1 1240.0,919.5 1242.0,919.9 1244.0,920.3 1246.0,920.7 1248.0,921.2 1250.0,921.7 1252.0,922.2 1254.0,922.7 1256.0,923.2 1258.0,923.7 1260.0,924.3 1262.0,924.8 1264.0,925.4 1266.0,926.0 1268.0,926.5 1270.0,927.1 1272.0,927.7 1274.0,928.3 1276.0,929.0 1278.0,929.6 1280.0,930.2 1282.0,930.8 1284.0,931.5 1286.0,932.1 1288.0,932.8 1290.0,933.4 1292.0,934.1 1294.0,934.8 1296.0,935.5 1298.0,936.2 1300.0,937.0 1302.0,937.7 1304.0,938.5 1306.0,939.3 1308.0,940.1 1310.0,941.0 1312.0,941.9 1314.0,942.8 1316.0,943.7 1318.0,944.7 1320.0,945.7 1322.0,946.7 1324.0,947.7 1326.0,948.7 1328.0,949.7 1330.0,950.7 1332.0,951.8 1334.0,952.8 1336.0,953.9 1338.0,955.0 1340.0,956.2 1342.0,957.4 1344.0,958.6 1346.0,959.9 1348.0,961.3 1350.0,962.7 1352.0,964.3 1354.0,965.9 1356.0,967.6 1358.0,969.4 1360.0,971.2 1362.0,973.0 1364.0,974.8 1366.0,976.7 1368.0,978.5 1370.0,980.3 1372.0,982.1 1374.0,983.8 1376.0,985.5 1378.0,987.0 1380.0,988.5 1382.0,990.0 1384.0,991.5 1386.0,993.0 1388.0,994.5 1390.0,996.0 1392.0,997.5 1394.0,999.0 1396.0,1000.5 1398.0,1001.9 1400.0,1003.4 1402.0,1004.9 1404.0,1006.4 1406.0,1007.9 1408.0,1009.4 1410.0,1010.9 1412.0,1012.4 1414.0,1013.8 1416.0,1015.3 1418.0,1016.8 1420.0,1018.3 1422.0,1019.8 1424.0,1021.3 1426.0,1022.8 1428.0,1024.3 1430.0,1025.8 1432.0,1027.3 1434.0,1028.8 1436.0,1030.3 1438.0,1031.8 1440.0,1033.3 1442.0,1034.8 1444.0,1036.3 1446.0,1037.8 1448.0,1039.2 1450.0,1040.7 1452.0,1042.1 1454.0,1043.6 1456.0,1045.0 1458.0,1046.3 1460.0,1047.7 1462.0,1049.0 1464.0,1050.2 1466.0,1051.4 1468.0,1052.5 1470.0,1053.6 1472.0,1054.6 1474.0,1055.6 1476.0,1056.5 1478.0,1057.3 1480.0,1058.2 1482.0,1059.0 1484.0,1059.9 1486.0,1060.7 1488.0,1061.6 1490.0,1062.5 1492.0,1063.4 1494.0,1064.3 1496.0,1065.3 1498.0,1066.3 1500.0,1067.3 1502.0,1068.3 1504.0,1069.3 1506.0,1070.4 1508.0,1071.4 1510.0,1072.5 1512.0,1073.6 1514.0,1074.7 1516.0,1075.8 1518.0,1076.9 1520.0,1078.1 1522.0,1079.3 1524.0,1080.9 1526.0,1083.3 1528.0,1085.9 1530.0,1088.2 1532.0,1089.7 1534.0,1090.9 1536.0,1092.1 1538.0,1093.2 1540.0,1094.3 1542.0,1095.4 1544.0,1096.5 1546.0,1097.7 1548.0,1099.0 1550.0,1100.4 1552.0,1101.9 1554.0,1103.3 1556.0,1104.8 1558.0,1106.2 1560.0,1107.7 1562.0,1109.1 1564.0,1110.4 1566.0,1111.7 1568.0,1112.9 1570.0,1114.2 1572.0,1115.4 1574.0,1116.7 1576.0,1117.9 1578.0,1119.2 1580.0,1120.4 1582.0,1121.6 1584.0,1122.9 1586.0,1124.1 1588.0,1125.3 1590.0,1126.6 1592.0,1127.8 1594.0,1129.0 1596.0,1130.2 1598.0,1131.4 1600.0,1132.6 1602.0,1133.8 1604.0,1134.9 1606.0,1136.0 1608.0,1137.1 1610.0,1138.2 1612.0,1139.2 1614.0,1140.2 1616.0,1141.2 1618.0,1142.2 1620.0,1143.1 1622.0,1144.1 1624.0,1145.0 1626.0,1145.9 1628.0,1146.7 1630.0,1147.6 1632.0,1148.4 1634.0,1149.2 1636.0,1150.0 1638.0,1150.7 1640.0,1151.5 1642.0,1152.2 1644.0,1152.8 1646.0,1153.5 1648.0,1154.2 1650.0,1154.9 1652.0,1155.7 1654.0,1156.5 1656.0,1157.3 1658.0,1158.1 1660.0,1159.0 1662.0,1159.9 1664.0,1160.9 1666.0,1161.8 1668.0,1162.8 1670.0,1163.7 1672.0,1164.7 1674.0,1165.7 1676.0,1166.7 1678.0,1167.7 1680.0,1168.7 1682.0,1169.7 1684.0,1170.6 1686.0,1171.6 1688.0,1172.6 1690.0,1173.5 1692.0,1174.4 1694.0,1175.4 1696.0,1176.2 1698.0,1177.1 1700.0,1178.0 1702.0,1178.9 1704.0,1179.7 1706.0,1180.5 1708.0,1181.3 1710.0,1182.1 1712.0,1182.9 1714.0,1183.7 1716.0,1184.5 1718.0,1185.2 1720.0,1185.9 1722.0,1186.6 1724.0,1187.3 1726.0,1187.9 1728.0,1188.4 1730.0,1188.8 1732.0,1189.1 1734.0,1189.4 1736.0,1189.7 1738.0,1190.0 1740.0,1190.2 1742.0,1190.5 1744.0,1190.8 1746.0,1191.2 1748.0,1191.6 1750.0,1192.2 1752.0,1192.8 1754.0,1193.4 1756.0,1194.1 1758.0,1194.8 1760.0,1195.5 1762.0,1196.3 1764.0,1197.1 1766.0,1197.9 1768.0,1198.7 1770.0,1199.5 1772.0,1200.4 1774.0,1201.3 1776.0,1202.1 1778.0,1203.0 1780.0,1204.0 1782.0,1204.9 1784.0,1205.9 1786.0,1207.0 1788.0,1208.0 1790.0,1209.2 1792.0,1210.3 1794.0,1211.4 1796.0,1212.6 1798.0,1213.7 1800.0,1214.8 1802.0,1215.9 1804.0,1217.0 1806.0,1218.0 1808.0,1218.9 1810.0,1219.8 1812.0,1220.7 1814.0,1221.5 1816.0,1222.2 1818.0,1222.9 1820.0,1223.5 1822.0,1224.1 1824.0,1224.7 1826.0,1225.2 1828.0,1225.7 1830.0,1226.2 1832.0,1226.7 1834.0,1227.2 1836.0,1227.6 1838.0,1228.1 1840.0,1228.4 1842.0,1228.6 1844.0,1228.7 1846.0,1228.6 1848.0,1228.6 1850.0,1228.4 1852.0,1228.3 1854.0,1228.2 1856.0,1228.2 1858.0,1228.2 1860.0,1228.4 1862.0,1228.7 1864.0,1229.1 1866.0,1229.8 1868.0,1230.7 1870.0,1231.6 1872.0,1232.7 1874.0,1233.8 1876.0,1235.0 1878.0,1236.1 1880.0,1237.2 1882.0,1238.1 1884.0,1239.1 1886.0,1240.0 1888.0,1240.8 1890.0,1241.7 1892.0,1242.6 1894.0,1243.5 1896.0,1244.4 1898.0,1245.3 1900.0,1246.2 1902.0,1247.1 1904.0,1248.1 1906.0,1249.2 1908.0,1250.4 1910.0,1251.6 1912.0,1252.8 1914.0,1254.1 1916.0,1255.2 1918.0,1256.3 1920.0,1257.3 1922.0,1258.2 1924.0,1258.9 1926.0,1259.6 1928.0,1260.1 1930.0,1260.6 1932.0,1261.1 1934.0,1261.5 1936.0,1261.8 1938.0,1262.2 1940.0,1262.5 1942.0,1262.7 1944.0,1263.0 1946.0,1263.3 1948.0,1263.5 1950.0,1263.8 1952.0,1264.1 1954.0,1264.3 1956.0,1264.6 1958.0,1264.8 1960.0,1265.1 1962.0,1265.3 1964.0,1265.5 1966.0,1265.8 1968.0,1266.0 1970.0,1266.2 1972.0,1266.5 1974.0,1266.7 1975.7,1266.9" fill="none" stroke="#ff00ff" stroke-width="10.3" stroke-linejoin="round" stroke-linecap="butt"/>
<path d="M316.0,1012.7L318.0,1012.9 320.0,1013.2 322.0,1013.4 324.0,1013.7 326.0,1013.9 328.0,1014.1 330.0,1014.4 332.0,1014.6 334.0,1014.8 336.0,1015.0 338.0,1015.2 340.0,1015.4 342.0,1015.6 344.0,1015.8 346.0,1016.0 348.0,1016.2 350.0,1016.4 352.0,1016.6 354.0,1016.7 356.0,1016.9 358.0,1017.1 360.0,1017.2 362.0,1017.4 364.0,1017.5 366.0,1017.7 368.0,1017.8 370.0,1018.0 372.0,1018.2 374.0,1018.3 376.0,1018.5 378.0,1018.6 380.0,1018.8 382.0,1018.9 384.0,1019.0 386.0,1019.2 388.0,1019.3 390.0,1019.5 392.0,1019.6 394.0,1019.7 396.0,1019.8 398.0,1019.9 400.0,1020.0 402.0,1020.1 404.0,1020.2 406.0,1020.3 408.0,1020.3 410.0,1020.4 412.0,1020.4 414.0,1020.4 416.0,1020.3 418.0,1020.1 420.0,1019.9 422.0,1019.7 424.0,1019.3 426.0,1019.0 428.0,1018.6 430.0,1018.1 432.0,1017.6 434.0,1017.1 436.0,1016.6 438.0,1016.1 440.0,1015.5 442.0,1015.0 444.0,1014.5 446.0,1014.0 448.0,1013.4 450.0,1012.9 452.0,1012.4 454.0,1011.8 456.0,1011.3 458.0,1010.8 460.0,1010.2 462.0,1009.7 464.0,1009.2 466.0,1008.7 468.0,1008.1 470.0,1007.6 472.0,1007.1 474.0,1006.5 476.0,1006.0 478.0,1005.5 480.0,1004.9 482.0,1004.4 484.0,1003.9 486.0,1003.3 488.0,1002.8 490.0,1002.2 492.0,1001.7 494.0,1000.9 496.0,999.9 498.0,998.8 500.0,997.4 502.0,996.0 504.0,994.5 506.0,993.0 508.0,991.4 510.0,989.9 512.0,988.4 514.0,986.9 516.0,985.4 518.0,983.8 520.0,982.2 522.0,980.6 524.0,979.0 526.0,977.5 528.0,976.0 530.0,974.7 532.0,973.4 534.0,972.1 536.0,970.9 538.0,969.7 540.0,968.5 542.0,967.4 544.0,966.3 546.0,965.3 548.0,964.3 550.0,963.3 552.0,962.3 554.0,961.4 556.0,960.5 558.0,959.6 560.0,958.8 562.0,958.0 564.0,957.2 566.0,956.4 568.0,955.6 570.0,954.8 572.0,954.1 574.0,953.3 576.0,952.5 578.0,951.7 580.0,950.9 582.0,950.1 584.0,949.3 586.0,948.5 588.0,947.7 590.0,946.9 592.0,946.1 594.0,945.2 596.0,944.4 598.0,943.6 600.0,942.7 602.0,941.9 604.0,941.0 606.0,940.2 608.0,939.3 610.0,938.4 612.0,937.5 614.0,936.6 616.0,935.7 618.0,934.6 620.0,933.2 622.0,931.8 624.0,930.4 626.0,929.2 628.0,928.1 630.0,927.0 632.0,925.9 634.0,924.9 636.0,923.8 638.0,922.8 640.0,921.8 642.0,920.9 644.0,919.9 646.0,919.0 648.0,918.1 650.0,917.3 652.0,916.4 654.0,915.6 656.0,914.9 658.0,914.2 660.0,913.5 662.0,912.8 664.0,912.2 666.0,911.6 668.0,911.0 670.0,910.4 672.0,909.9 674.0,909.4 676.0,908.9 678.0,908.5 680.0,908.1 682.0,907.7 684.0,907.4 686.0,907.1 688.0,906.8 690.0,906.6 692.0,906.4 694.0,906.3 696.0,906.2 698.0,906.1 700.0,906.0 702.0,905.8 704.0,905.7 706.0,905.6 708.0,905.5 710.0,905.4 712.0,905.3 714.0,905.2 716.0,905.1 718.0,905.0 720.0,904.9 722.0,904.8 724.0,904.7 726.0,904.6 728.0,904.5 730.0,904.5 732.0,904.4 734.0,904.5 736.0,904.6 738.0,904.8 740.0,905.0 742.0,905.2 744.0,905.5 746.0,905.8 748.0,906.2 750.0,906.6 752.0,907.0 754.0,907.5 756.0,907.9 758.0,908.4 760.0,908.9 762.0,909.5 764.0,910.0 766.0,910.6 768.0,911.2 770.0,911.8 772.0,912.4 774.0,913.0 776.0,913.7 778.0,914.4 780.0,915.1 782.0,915.9 784.0,916.6 786.0,917.4 788.0,918.2 790.0,919.1 792.0,920.0 794.0,920.9 796.0,921.8 798.0,922.7 800.0,923.7 802.0,924.7 804.0,925.6 806.0,926.6 808.0,927.6 810.0,928.5 812.0,929.5 814.0,930.5 816.0,931.5 818.0,932.5 820.0,933.5 822.0,934.6 824.0,935.6 826.0,936.6 828.0,937.7 830.0,938.7 832.0,939.8 834.0,940.8 836.0,941.9 838.0,943.0 840.0,944.1 842.0,945.2 844.0,946.3 846.0,947.4 848.0,948.5 850.0,949.6 852.0,950.7 854.0,951.9 856.0,953.0 858.0,954.1 860.0,955.2 862.0,956.3 864.0,957.4 866.0,958.5 868.0,959.6 870.0,960.7 872.0,961.8 874.0,962.9 876.0,963.9 878.0,965.0 880.0,966.1 882.0,967.1 884.0,968.1 886.0,969.2 888.0,970.2 890.0,971.2 892.0,972.2 894.0,973.2 896.0,974.2 898.0,975.2 900.0,976.1 902.0,977.1 904.0,978.0 906.0,979.0 908.0,979.9 910.0,980.8 912.0,981.7 914.0,982.5 916.0,983.3 918.0,984.1 920.0,984.9 922.0,985.6 924.0,986.3 926.0,986.9 928.0,987.6 930.0,988.2 932.0,988.7 934.0,989.3 936.0,989.8 938.0,990.3 940.0,990.8 942.0,991.2 944.0,991.6 946.0,992.0 948.0,992.4 950.0,992.8 952.0,993.1 954.0,993.5 956.0,993.8 958.0,994.2 960.0,994.5 962.0,994.8 964.0,995.2 966.0,995.5 968.0,995.8 970.0,996.1 972.0,996.4 974.0,996.7 976.0,996.9 978.0,997.2 980.0,997.5 982.0,997.7 984.0,998.0 986.0,998.2 988.0,998.5 990.0,998.7 992.0,998.9 994.0,999.1 996.0,999.3 998.0,999.5 1000.0,999.7 1002.0,999.9 1004.0,1000.1 1006.0,1000.3 1008.0,1000.4 1010.0,1000.6 1012.0,1000.8 1014.0,1001.0 1016.0,1001.2 1018.0,1001.4 1020.0,1001.6 1022.0,1001.8 1024.0,1002.0 1026.0,1002.2 1028.0,1002.5 1030.0,1002.8 1032.0,1003.0 1034.0,1003.3 1036.0,1003.6 1038.0,1004.0 1040.0,1004.3 1042.0,1004.7 1044.0,1005.1 1046.0,1005.4 1048.0,1005.9 1050.0,1006.3 1052.0,1006.7 1054.0,1007.2 1056.0,1007.7 1058.0,1008.2 1060.0,1008.7 1062.0,1009.3 1064.0,1009.8 1066.0,1010.4 1068.0,1011.1 1070.0,1011.9 1072.0,1012.7 1074.0,1013.6 1076.0,1014.4 1078.0,1015.3 1080.0,1016.2 1082.0,1017.1 1084.0,1018.0 1086.0,1018.8 1088.0,1019.7 1090.0,1020.4 1092.0,1021.1 1094.0,1021.7 1096.0,1022.4 1098.0,1023.0 1100.0,1023.6 1102.0,1024.2 1104.0,1024.8 1106.0,1025.3 1108.0,1025.9 1110.0,1026.4 1112.0,1027.0 1114.0,1027.4 1116.0,1027.9 1118.0,1028.4 1120.0,1028.8 1122.0,1029.2 1124.0,1029.6 1126.0,1030.0 1128.0,1030.3 1130.0,1030.7 1132.0,1031.0 1134.0,1031.4 1136.0,1031.7 1138.0,1032.0 1140.0,1032.3 1142.0,1032.5 1144.0,1032.8 1146.0,1033.1 1148.0,1033.3 1150.0,1033.6 1152.0,1033.8 1154.0,1034.0 1156.0,1034.2 1158.0,1034.4 1160.0,1034.5 1162.0,1034.7 1164.0,1034.8 1166.0,1035.0 1168.0,1035.1 1170.0,1035.2 1172.0,1035.3 1174.0,1035.3 1176.0,1035.4 1178.0,1035.4 1180.0,1035.4 1182.0,1035.4 1184.0,1035.3 1186.0,1035.2 1188.0,1035.1 1190.0,1035.0 1192.0,1034.9 1194.0,1034.7 1196.0,1034.6 1198.0,1034.4 1200.0,1034.2 1202.0,1034.0 1204.0,1033.8 1206.0,1033.6 1208.0,1033.5 1210.0,1033.3 1212.0,1033.1 1214.0,1033.0 1216.0,1032.8 1218.0,1032.7 1220.0,1032.6 1222.0,1032.6 1224.0,1032.5 1226.0,1032.5 1228.0,1032.5 1230.0,1032.5 1232.0,1032.5 1234.0,1032.5 1236.0,1032.6 1238.0,1032.7 1240.0,1032.7 1242.0,1032.9 1244.0,1033.0 1246.0,1033.2 1248.0,1033.4 1250.0,1033.7 1252.0,1034.0 1254.0,1034.4 1256.0,1034.8 1258.0,1035.2 1260.0,1035.6 1262.0,1036.0 1264.0,1036.5 1266.0,1036.9 1268.0,1037.3 1270.0,1037.8 1272.0,1038.2 1274.0,1038.7 1276.0,1039.2 1278.0,1039.6 1280.0,1040.1 1282.0,1040.6 1284.0,1041.0 1286.0,1041.5 1288.0,1042.0 1290.0,1042.4 1292.0,1042.9 1294.0,1043.4 1296.0,1043.8 1298.0,1044.3 1300.0,1044.8 1302.0,1045.2 1304.0,1045.7 1306.0,1046.2 1308.0,1046.6 1310.0,1047.1 1312.0,1047.6 1314.0,1048.1 1316.0,1048.6 1318.0,1049.1 1320.0,1049.6 1322.0,1050.2 1324.0,1050.7 1326.0,1051.2 1328.0,1051.8 1330.0,1052.4 1332.0,1053.0 1334.0,1053.7 1336.0,1054.5 1338.0,1055.4 1340.0,1056.3 1342.0,1057.3 1344.0,1058.4 1346.0,1059.5 1348.0,1060.7 1350.0,1061.9 1352.0,1063.1 1354.0,1064.4 1356.0,1065.7 1358.0,1067.0 1360.0,1068.3 1362.0,1069.6 1364.0,1071.0 1366.0,1072.3 1368.0,1073.6 1370.0,1075.0 1372.0,1076.3 1374.0,1077.7 1376.0,1079.0 1378.0,1080.4 1380.0,1081.7 1382.0,1083.0 1384.0,1084.4 1386.0,1085.7 1388.0,1087.0 1390.0,1088.4 1392.0,1089.7 1394.0,1091.0 1396.0,1092.3 1398.0,1093.6 1400.0,1094.8 1402.0,1095.9 1404.0,1097.0 1406.0,1098.0 1408.0,1098.9 1410.0,1099.8 1412.0,1100.7 1414.0,1101.6 1416.0,1102.6 1418.0,1103.6 1420.0,1104.7 1422.0,1105.8 1424.0,1106.9 1426.0,1108.1 1428.0,1109.2 1430.0,1110.4 1432.0,1111.5 1434.0,1112.6 1436.0,1113.7 1438.0,1114.8 1440.0,1115.8 1442.0,1116.9 1444.0,1118.0 1446.0,1119.0 1448.0,1120.1 1450.0,1121.1 1452.0,1122.2 1454.0,1123.2 1456.0,1124.3 1458.0,1125.3 1460.0,1126.4 1462.0,1127.4 1464.0,1128.4 1466.0,1129.5 1468.0,1130.5 1470.0,1131.5 1472.0,1132.6 1474.0,1133.6 1476.0,1134.6 1478.0,1135.5 1480.0,1136.4 1482.0,1137.2 1484.0,1137.9 1486.0,1138.6 1488.0,1139.2 1490.0,1139.8 1492.0,1140.5 1494.0,1141.2 1496.0,1141.9 1498.0,1142.7 1500.0,1143.6 1502.0,1144.4 1504.0,1145.2 1506.0,1146.1 1508.0,1147.0 1510.0,1147.9 1512.0,1148.8 1514.0,1149.8 1516.0,1150.8 1518.0,1151.8 1520.0,1152.9 1522.0,1153.9 1524.0,1155.0 1526.0,1156.2 1528.0,1157.3 1530.0,1158.5 1532.0,1159.6 1534.0,1160.9 1536.0,1162.2 1538.0,1163.5 1540.0,1164.8 1542.0,1166.1 1544.0,1167.4 1546.0,1168.6 1548.0,1169.7 1550.0,1170.8 1552.0,1171.9 1554.0,1173.0 1556.0,1174.0 1558.0,1175.1 1560.0,1176.2 1562.0,1177.2 1564.0,1178.3 1566.0,1179.4 1568.0,1180.5 1570.0,1181.6 1572.0,1182.6 1574.0,1183.7 1576.0,1184.8 1578.0,1185.9 1580.0,1187.0 1582.0,1188.0 1584.0,1189.1 1586.0,1190.2 1588.0,1191.3 1590.0,1192.4 1592.0,1193.5 1594.0,1194.6 1596.0,1195.7 1598.0,1196.8 1600.0,1197.9 1602.0,1198.9 1604.0,1199.9 1606.0,1200.8 1608.0,1201.7 1610.0,1202.6 1612.0,1203.5 1614.0,1204.3 1616.0,1205.2 1618.0,1206.1 1620.0,1206.9 1622.0,1207.7 1624.0,1208.5 1626.0,1209.3 1628.0,1210.1 1630.0,1210.9 1632.0,1211.8 1634.0,1212.7 1636.0,1213.6 1638.0,1214.5 1640.0,1215.5 1642.0,1216.5 1644.0,1217.5 1646.0,1218.4 1648.0,1219.4 1650.0,1220.4 1652.0,1221.4 1654.0,1222.3 1656.0,1223.3 1658.0,1224.2 1660.0,1225.2 1662.0,1226.2 1664.0,1227.1 1666.0,1228.1 1668.0,1229.1 1670.0,1230.0 1672.0,1231.0 1674.0,1232.0 1676.0,1232.9 1678.0,1233.8 1680.0,1234.7 1682.0,1235.6 1684.0,1236.5 1686.0,1237.4 1688.0,1238.2 1690.0,1239.0 1692.0,1239.7 1694.0,1240.5 1696.0,1241.2 1698.0,1241.8 1700.0,1242.5 1702.0,1243.2 1704.0,1243.8 1706.0,1244.4 1708.0,1245.0 1710.0,1245.6 1712.0,1246.2 1714.0,1246.8 1716.0,1247.3 1718.0,1247.9 1720.0,1248.5 1722.0,1249.0 1724.0,1249.6 1726.0,1250.2 1728.0,1250.7 1730.0,1251.3 1732.0,1251.9 1734.0,1252.5 1736.0,1253.0 1738.0,1253.6 1740.0,1254.1 1742.0,1254.7 1744.0,1255.2 1746.0,1255.8 1748.0,1256.3 1750.0,1256.9 1752.0,1257.4 1754.0,1258.0 1756.0,1258.6 1758.0,1259.2 1760.0,1259.8 1762.0,1260.5 1764.0,1261.3 1766.0,1262.1 1768.0,1263.0 1770.0,1264.0 1772.0,1265.0 1774.0,1266.0 1776.0,1267.1 1778.0,1268.2 1780.0,1269.2 1782.0,1270.3 1784.0,1271.4 1786.0,1272.5 1788.0,1273.6 1790.0,1274.7 1792.0,1275.8 1794.0,1276.9 1796.0,1278.0 1798.0,1279.1 1800.0,1280.3 1802.0,1281.4 1804.0,1282.6 1806.0,1283.9 1808.0,1285.2 1810.0,1286.5 1812.0,1287.7 1814.0,1289.0 1816.0,1290.2 1818.0,1291.3 1820.0,1292.3 1822.0,1293.2 1824.0,1293.9 1826.0,1294.5 1828.0,1294.9 1830.0,1295.1 1832.0,1295.3 1834.0,1295.5 1836.0,1295.6 1838.0,1295.6 1840.0,1295.7 1842.0,1295.9 1844.0,1296.0 1846.0,1296.1 1848.0,1296.1 1850.0,1296.2 1852.0,1296.3 1854.0,1296.4 1856.0,1296.5 1858.0,1296.6 1860.0,1296.7 1862.0,1296.8 1864.0,1297.0 1866.0,1297.2 1868.0,1297.4 1870.0,1297.6 1872.0,1297.8 1874.0,1298.0 1876.0,1298.3 1878.0,1298.6 1880.0,1299.0 1882.0,1299.4 1884.0,1299.8 1886.0,1300.3 1888.0,1300.9 1890.0,1301.5 1892.0,1302.2 1894.0,1302.9 1896.0,1303.6 1898.0,1304.4 1900.0,1305.1 1902.0,1305.9 1904.0,1306.7 1906.0,1307.6 1908.0,1308.5 1910.0,1309.5 1912.0,1310.4 1914.0,1311.4 1916.0,1312.3 1918.0,1313.2 1920.0,1314.1 1922.0,1314.9 1924.0,1315.6 1926.0,1316.3 1928.0,1316.9 1930.0,1317.5 1932.0,1318.1 1934.0,1318.5 1936.0,1319.0 1938.0,1319.4 1940.0,1319.7 1942.0,1320.0 1944.0,1320.3 1946.0,1320.5 1948.0,1320.6 1950.0,1320.7 1952.0,1320.8 1954.0,1320.9 1956.0,1321.0 1958.0,1321.1 1960.0,1321.3 1962.0,1321.5 1964.0,1321.8 1966.0,1322.0 1968.0,1322.3 1970.0,1322.7 1972.0,1323.0 1974.0,1323.4 1975.7,1323.7" fill="none" stroke="#008000" stroke-width="10.3" stroke-linejoin="round" stroke-linecap="butt"/>
<path d="M399,241C399,205 400.5,178 409,168.5H1200C1207,166 1210,130 1212.3,77C1214.5,130 1217.5,166 1224.5,168.5H2014.7C2022,175 2026.5,200 2026.5,241" fill="none" stroke="#000" stroke-width="5" stroke-linejoin="miter"/>
<path d="M447.0,387.0V501.0" stroke="#fff" stroke-width="8.0"/><path d="M447.0,387.0V502.0" stroke="#000" stroke-width="8.0" stroke-dasharray="19.6 5.6"/><path d="M436.8,501.0H457.2L447.0,521.0Z" fill="#000"/>
<path d="M928.5,251.2V366.3" stroke="#fff" stroke-width="7.2"/><path d="M928.5,251.2V367.3" stroke="#000" stroke-width="7.2" stroke-dasharray="19.6 5.6"/><path d="M918.4,366.3H938.6L928.5,386.0Z" fill="#000"/>
<path d="M1833.7,441.5V556.4" stroke="#fff" stroke-width="7.0"/><path d="M1833.7,441.5V557.4" stroke="#000" stroke-width="7.0" stroke-dasharray="19.6 5.6"/><path d="M1824.0,556.4H1843.4L1833.7,575.8Z" fill="#000"/>
</svg>
</body></html>
